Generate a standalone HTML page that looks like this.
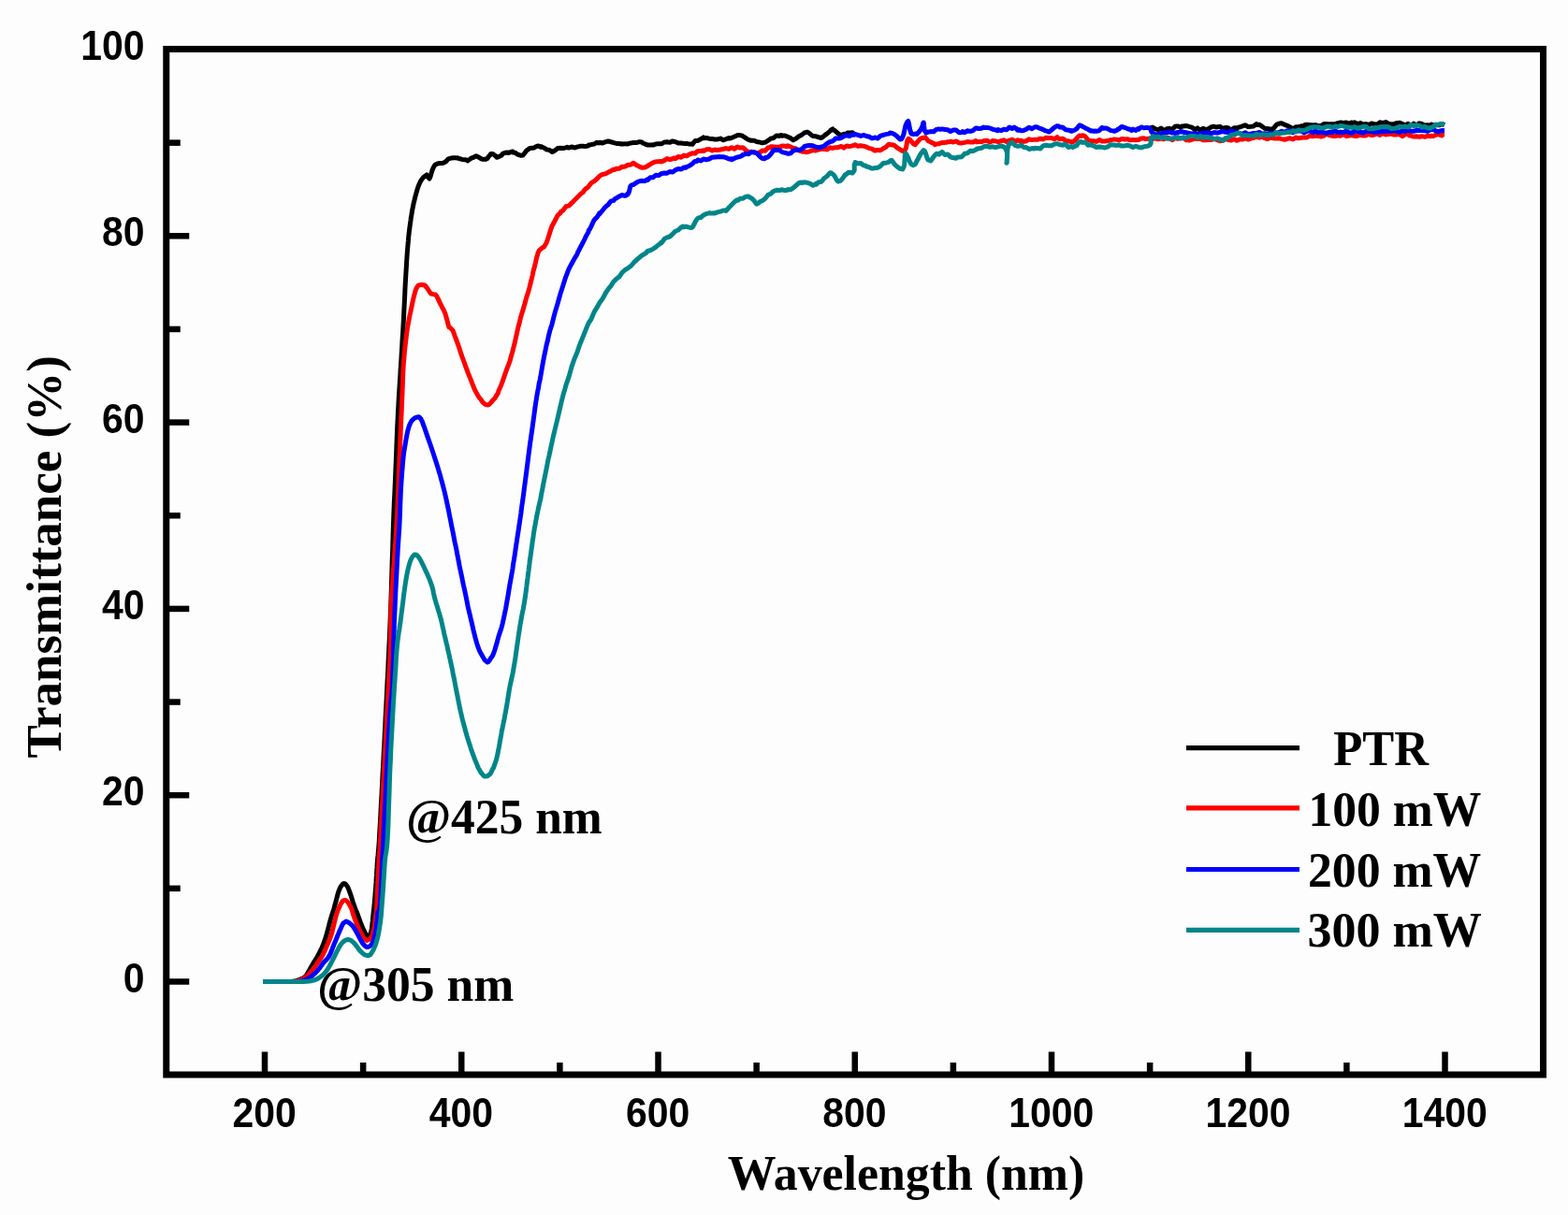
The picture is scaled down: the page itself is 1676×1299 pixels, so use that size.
<!DOCTYPE html>
<html><head><meta charset="utf-8"><title>Transmittance</title>
<style>html,body{margin:0;padding:0;background:#fdfdfd;width:1676px;height:1299px;overflow:hidden}svg{display:block}</style>
</head><body>
<svg width="1676" height="1299" viewBox="0 0 1676 1299"><rect x="0" y="0" width="1676" height="1299" fill="#fdfdfd"/><path d="M281.0 1049.5 L282.5 1049.5 L284.6 1049.5 L287.0 1049.5 L289.8 1049.5 L292.6 1049.5 L295.3 1049.5 L297.8 1049.5 L300.0 1049.5 L302.5 1049.5 L304.7 1049.5 L306.8 1049.5 L308.7 1049.4 L310.4 1049.4 L312.0 1049.3 L314.5 1049.0 L316.4 1048.6 L318.0 1048.2 L320.1 1047.4 L322.0 1046.5 L324.1 1045.8 L326.5 1044.0 L327.5 1042.7 L328.5 1041.0 L329.6 1039.0 L330.8 1037.0 L331.9 1034.9 L333.0 1033.0 L334.1 1031.2 L335.2 1029.4 L336.3 1027.6 L337.4 1025.9 L338.5 1024.1 L339.5 1022.3 L340.6 1020.2 L341.7 1018.1 L342.8 1015.9 L343.8 1013.8 L344.7 1011.6 L345.5 1009.7 L346.2 1007.9 L346.8 1006.0 L347.5 1004.1 L348.2 1002.1 L348.8 1000.0 L349.4 998.1 L349.9 996.0 L350.5 993.9 L351.0 991.7 L351.6 989.6 L352.0 987.7 L352.5 986.0 L353.2 983.5 L353.8 981.5 L354.3 979.7 L354.8 978.0 L355.5 976.0 L356.1 974.2 L356.8 972.0 L357.3 970.2 L357.8 968.2 L358.4 966.1 L359.0 964.0 L359.5 962.0 L360.1 959.7 L360.7 957.5 L361.2 955.4 L361.8 953.5 L362.7 951.2 L363.6 949.1 L364.5 947.5 L366.4 945.1 L367.8 944.5 L369.2 945.1 L371.2 947.5 L372.0 949.1 L372.8 951.2 L373.7 953.5 L374.4 955.4 L375.1 957.6 L375.8 959.8 L376.5 962.0 L377.2 964.3 L378.0 966.7 L378.8 968.9 L379.5 971.0 L380.3 973.0 L381.1 974.7 L382.0 977.0 L382.7 978.9 L383.5 981.2 L384.4 983.6 L385.2 985.9 L386.0 988.0 L386.9 990.3 L387.8 992.4 L388.7 994.3 L389.5 996.0 L391.1 999.1 L392.7 1001.0 L395.5 999.0 L396.2 997.5 L396.8 995.5 L397.3 993.0 L397.6 991.2 L397.8 989.1 L398.0 986.9 L398.3 984.5 L398.5 982.0 L398.7 980.2 L398.9 978.3 L399.1 976.4 L399.3 974.4 L399.6 972.4 L399.8 970.2 L400.0 968.0 L400.2 966.0 L400.4 964.1 L400.5 962.1 L400.7 960.0 L400.9 957.8 L401.1 955.4 L401.3 952.9 L401.5 950.0 L401.7 946.8 L402.0 943.2 L402.2 939.4 L402.5 935.4 L402.7 931.4 L403.0 927.4 L403.2 923.6 L403.5 920.0 L403.7 917.0 L404.0 914.6 L404.2 912.5 L404.4 910.3 L404.6 907.8 L404.9 904.6 L405.2 900.5 L405.5 895.0 L405.9 887.9 L406.4 879.4 L406.9 869.9 L407.4 859.7 L408.0 849.2 L408.5 838.9 L409.0 829.0 L409.5 820.0 L409.9 811.8 L410.3 803.9 L410.7 796.4 L411.1 789.1 L411.4 781.8 L411.8 774.6 L412.1 767.4 L412.5 760.0 L412.9 752.5 L413.3 745.0 L413.6 737.5 L414.0 730.0 L414.4 722.5 L414.8 715.0 L415.1 707.5 L415.5 700.0 L415.8 692.6 L416.2 685.5 L416.5 678.4 L416.8 671.2 L417.1 664.0 L417.4 656.4 L417.7 648.5 L418.0 640.0 L418.3 630.8 L418.6 620.9 L418.9 610.6 L419.2 600.0 L419.6 589.4 L419.9 579.1 L420.2 569.2 L420.5 560.0 L420.8 551.5 L421.1 543.6 L421.4 536.0 L421.8 528.8 L422.1 521.6 L422.4 514.5 L422.7 507.4 L423.0 500.0 L423.3 492.4 L423.6 484.8 L423.9 477.1 L424.2 469.4 L424.5 461.8 L424.8 454.3 L425.2 447.0 L425.5 440.0 L425.9 433.2 L426.2 426.7 L426.6 420.3 L427.0 414.1 L427.4 407.9 L427.8 401.9 L428.1 395.9 L428.5 390.0 L428.9 384.1 L429.2 378.4 L429.6 372.8 L429.9 367.2 L430.2 361.7 L430.6 356.2 L430.9 350.6 L431.2 345.0 L431.5 339.2 L431.8 333.3 L432.1 327.3 L432.4 321.4 L432.7 315.5 L432.9 309.8 L433.2 304.2 L433.5 299.0 L433.8 294.0 L434.1 289.2 L434.4 284.5 L434.6 280.1 L434.9 275.8 L435.2 271.6 L435.5 267.7 L435.8 264.0 L436.1 260.5 L436.4 257.4 L436.6 254.4 L436.9 251.6 L437.2 249.0 L437.5 246.3 L437.9 243.7 L438.2 241.0 L438.6 238.3 L439.0 235.5 L439.3 232.8 L439.8 230.2 L440.2 227.6 L440.6 225.0 L441.1 222.5 L441.6 220.0 L442.1 217.5 L442.7 215.1 L443.3 212.6 L443.9 210.2 L444.5 208.0 L445.1 205.8 L445.7 203.8 L446.2 202.0 L447.2 199.0 L448.2 196.6 L449.1 194.7 L450.0 193.0 L451.7 190.6 L453.2 189.0 L456.0 187.0 L457.5 189.5 L459.0 191.0 L459.6 189.9 L460.3 188.0 L460.9 185.7 L461.6 183.4 L462.2 181.5 L463.2 179.2 L464.2 177.4 L465.4 176.0 L467.6 175.0 L470.0 174.5 L472.5 174.5 L473.0 174.5 L475.1 173.6 L476.0 173.2 L476.8 172.5 L478.5 170.6 L479.0 170.1 L480.5 169.5 L482.0 169.1 L482.5 169.0 L484.8 168.7 L485.0 168.7 L487.1 168.8 L488.0 168.9 L489.1 168.8 L491.0 169.7 L491.7 169.7 L494.0 170.5 L496.9 170.7 L497.0 170.7 L499.8 171.5 L500.0 171.8 L501.9 170.5 L503.0 169.6 L504.0 169.0 L506.0 168.4 L506.7 167.9 L509.0 166.7 L509.5 167.2 L511.8 168.1 L512.0 168.3 L514.0 169.5 L515.0 170.1 L516.5 170.4 L518.0 170.1 L519.2 170.4 L520.9 169.5 L521.0 169.4 L522.6 166.9 L524.0 165.8 L524.5 164.5 L526.6 164.6 L527.0 164.7 L528.8 166.2 L530.0 166.8 L531.0 168.3 L533.0 167.6 L533.2 167.6 L535.3 166.5 L536.0 166.2 L537.4 164.3 L539.0 163.7 L540.3 163.3 L542.0 162.9 L543.0 163.5 L545.0 163.0 L545.6 162.7 L548.0 162.0 L548.1 163.0 L550.5 163.2 L551.0 163.5 L553.0 165.0 L554.0 165.2 L554.9 165.6 L556.9 166.3 L557.0 166.3 L558.9 166.1 L560.0 164.6 L560.3 164.4 L561.5 162.7 L562.9 160.8 L563.0 160.7 L564.3 160.0 L566.0 158.6 L566.4 158.5 L568.7 158.3 L569.0 158.3 L571.0 158.0 L572.0 157.3 L573.5 156.6 L575.0 155.9 L576.0 156.3 L578.0 157.4 L578.2 156.6 L580.7 157.7 L581.0 157.9 L583.0 159.0 L584.0 159.8 L584.9 160.0 L587.0 160.3 L587.0 160.3 L589.0 161.5 L590.0 162.4 L590.8 162.2 L592.6 161.2 L593.0 161.0 L595.0 159.5 L596.0 158.4 L596.9 158.4 L599.0 158.2 L599.1 158.2 L601.5 158.4 L602.0 158.5 L603.9 158.1 L605.0 157.9 L606.2 157.3 L608.0 158.1 L608.4 158.0 L610.5 157.2 L611.0 157.0 L612.6 157.5 L614.0 157.9 L614.8 157.8 L617.0 157.0 L619.0 156.6 L620.0 156.2 L621.0 156.2 L623.0 156.3 L623.2 156.3 L625.3 156.4 L626.0 156.4 L627.3 156.2 L629.0 155.8 L629.3 155.0 L631.5 154.7 L632.0 154.5 L633.6 154.3 L635.0 154.1 L635.7 153.7 L637.8 152.4 L638.0 152.3 L640.0 153.0 L641.0 152.3 L642.0 152.5 L644.0 153.0 L644.0 153.0 L646.1 152.1 L647.0 151.7 L648.3 151.4 L650.0 150.9 L650.4 151.0 L652.4 151.6 L653.0 151.8 L654.8 152.2 L656.0 152.6 L657.1 152.9 L659.0 153.4 L659.4 153.4 L661.7 153.5 L662.0 153.5 L664.0 154.0 L665.0 153.8 L666.3 153.9 L668.0 153.8 L668.6 153.8 L670.9 153.9 L671.0 153.9 L673.2 153.1 L674.0 152.9 L675.5 152.7 L677.0 152.4 L677.8 152.5 L680.0 152.6 L680.1 152.6 L682.4 151.9 L683.0 151.7 L684.7 151.8 L686.0 151.9 L687.0 153.0 L689.0 153.8 L689.3 153.9 L691.6 154.9 L692.0 155.1 L694.0 155.0 L695.0 154.9 L696.3 154.9 L698.0 154.7 L698.6 155.0 L700.9 154.0 L701.0 153.9 L703.2 153.8 L704.0 153.8 L705.4 153.8 L707.0 153.8 L707.7 153.5 L710.0 152.0 L712.3 151.9 L713.0 151.7 L714.4 152.0 L716.0 152.3 L716.7 151.9 L719.0 150.9 L719.1 150.9 L721.7 151.6 L722.0 151.7 L723.5 152.3 L725.0 153.1 L725.5 153.1 L727.5 153.0 L728.0 153.0 L729.6 153.2 L731.0 153.4 L731.7 153.4 L733.8 153.4 L734.0 153.4 L735.9 153.9 L737.0 154.1 L737.8 153.9 L739.9 154.3 L740.0 154.3 L741.9 152.0 L743.0 150.6 L743.9 150.6 L745.9 150.4 L746.0 150.4 L747.8 149.3 L749.0 148.7 L749.8 148.3 L751.7 147.0 L752.0 147.8 L753.9 147.5 L755.0 147.5 L756.1 147.7 L758.0 148.2 L758.3 148.2 L760.5 148.4 L761.0 148.4 L762.7 148.8 L764.0 149.0 L765.0 149.0 L767.0 148.9 L767.0 148.9 L769.1 148.3 L770.0 148.0 L771.2 148.7 L773.0 149.7 L773.4 149.6 L775.5 148.9 L776.0 148.7 L777.5 148.1 L779.0 147.5 L779.4 148.1 L781.5 147.5 L782.0 147.4 L783.5 146.8 L785.0 146.1 L785.4 145.9 L787.3 145.0 L788.0 144.7 L789.1 144.4 L791.0 144.6 L792.9 144.9 L794.0 145.6 L794.7 146.0 L796.5 147.2 L797.0 147.5 L798.3 148.3 L800.0 149.3 L800.1 149.4 L802.0 150.0 L803.0 150.3 L804.0 150.3 L806.0 150.3 L808.1 151.2 L809.0 151.6 L810.1 151.8 L812.0 152.0 L812.1 152.0 L814.0 152.7 L815.0 152.7 L816.1 152.6 L818.0 152.1 L818.1 152.1 L820.0 150.8 L821.0 150.2 L822.0 149.6 L824.0 148.0 L826.1 147.8 L827.0 147.4 L828.1 146.4 L830.0 144.9 L830.2 144.9 L832.4 145.2 L833.0 145.5 L834.8 144.6 L836.0 145.2 L836.6 145.1 L838.6 145.0 L839.0 145.0 L840.7 145.7 L842.0 146.3 L842.7 146.6 L844.8 147.5 L845.0 147.6 L846.8 149.1 L848.0 149.8 L848.7 149.3 L850.8 148.2 L851.0 148.0 L852.9 146.6 L854.0 145.6 L854.9 145.3 L856.9 144.3 L857.0 144.3 L858.7 142.7 L860.0 141.8 L860.4 142.0 L862.6 141.2 L863.0 141.3 L864.4 142.0 L866.0 143.2 L866.1 143.3 L868.0 145.0 L869.0 145.4 L870.2 145.5 L872.0 145.7 L872.4 145.9 L874.7 146.7 L875.0 146.7 L876.8 147.3 L878.0 147.4 L878.7 147.0 L880.6 145.5 L881.0 145.1 L882.3 144.0 L884.0 143.0 L886.1 141.1 L887.0 140.4 L888.0 139.2 L890.0 138.0 L890.3 139.0 L891.9 139.2 L893.0 140.3 L893.8 140.9 L895.7 142.6 L896.0 142.9 L897.5 143.8 L899.0 144.2 L899.2 145.0 L901.6 143.5 L902.0 143.3 L903.8 143.3 L905.0 143.5 L906.0 142.0 L907.6 142.0 L908.0 142.0 L909.2 141.9 L911.0 141.7 L912.7 142.8 M1229.0 136.4 L1230.2 136.5 L1232.0 136.1 L1232.1 136.1 L1234.1 137.3 L1235.0 137.9 L1236.1 138.2 L1238.0 138.6 L1238.2 138.5 L1240.3 137.5 L1241.0 137.1 L1242.4 138.1 L1244.0 139.2 L1244.5 139.0 L1246.6 138.8 L1247.0 137.7 L1248.6 137.5 L1250.0 137.3 L1250.7 137.6 L1252.7 138.3 L1253.0 138.4 L1254.7 136.6 L1256.0 135.2 L1256.7 135.1 L1258.8 134.9 L1259.0 134.9 L1260.9 135.7 L1262.0 136.4 L1263.0 135.0 L1265.0 134.9 L1265.2 134.8 L1267.4 134.6 L1268.0 134.5 L1269.6 134.9 L1271.0 135.3 L1271.9 135.6 L1274.0 136.2 L1274.2 136.4 L1276.5 137.9 L1277.0 138.2 L1278.7 137.5 L1280.0 136.9 L1281.0 138.0 L1283.0 139.0 L1283.3 138.9 L1285.5 137.6 L1286.0 137.3 L1287.8 138.0 L1289.0 138.4 L1290.1 138.1 L1292.0 137.7 L1292.3 137.4 L1294.6 135.9 L1295.0 135.6 L1296.7 135.3 L1298.0 135.2 L1298.8 135.8 L1301.0 135.9 L1301.1 135.8 L1303.4 135.4 L1304.0 135.3 L1305.5 136.4 L1307.0 137.4 L1307.7 137.2 L1309.7 136.5 L1310.0 136.4 L1311.7 136.6 L1313.0 136.7 L1313.7 138.0 L1315.8 139.0 L1316.0 139.1 L1317.7 137.8 L1319.0 136.8 L1319.5 136.8 L1321.3 136.8 L1322.0 136.8 L1323.4 136.3 L1325.0 135.8 L1325.7 135.8 L1327.7 135.0 L1328.0 134.9 L1329.9 134.2 L1331.0 133.8 L1332.2 134.4 L1334.0 135.5 L1334.6 135.4 L1337.0 135.2 L1337.0 135.2 L1339.4 134.9 L1340.0 134.9 L1341.7 133.5 L1343.0 132.6 L1343.9 133.6 L1346.0 133.2 L1346.3 133.3 L1348.6 134.8 L1349.0 135.2 L1350.8 136.5 L1352.0 137.3 L1353.0 137.4 L1355.0 137.4 L1355.1 137.4 L1357.0 138.2 L1358.0 138.4 L1358.8 138.0 L1360.9 137.7 L1361.0 137.6 L1362.6 135.7 L1364.0 133.7 L1364.2 133.6 L1365.8 132.5 L1367.0 132.4 L1367.7 132.0 L1369.5 131.8 L1370.0 131.9 L1371.4 132.4 L1373.0 133.2 L1373.3 133.4 L1375.4 134.2 L1376.0 134.3 L1377.5 135.2 L1379.0 135.8 L1379.7 136.5 L1381.7 137.5 L1382.0 137.7 L1383.9 136.5 L1385.0 135.7 L1386.2 135.7 L1388.0 135.5 L1388.5 135.4 L1390.7 134.8 L1391.0 134.7 L1392.8 134.7 L1394.0 134.8 L1394.6 133.6 L1397.0 133.3 L1397.1 133.3 L1399.0 133.4 L1400.0 133.5 L1401.0 133.7 L1403.0 133.8 L1403.5 134.3 L1405.2 133.7 L1406.0 133.6 L1406.9 134.0 L1408.8 134.6 L1409.0 134.6 L1410.8 134.5 L1412.0 134.4 L1413.0 133.8 L1415.0 132.5 L1415.5 132.5 L1418.0 132.4 L1418.4 132.8 L1421.0 132.8 L1421.3 132.8 L1424.0 132.7 L1424.7 132.7 L1427.0 132.7 L1428.3 132.2 L1430.0 131.7 L1432.1 131.2 L1433.0 131.0 L1436.0 131.5 L1436.0 131.5 L1439.0 131.0 L1439.8 131.3 L1442.0 132.2 L1443.4 131.6 L1445.0 130.9 L1446.8 132.0 L1448.0 130.9 L1450.0 131.9 L1451.0 132.4 L1453.1 131.9 L1454.0 131.6 L1456.2 132.7 L1457.0 133.1 L1459.2 132.6 L1460.0 132.5 L1462.1 133.2 L1463.0 133.6 L1464.7 132.6 L1466.0 131.9 L1467.1 132.2 L1469.0 132.8 L1469.2 132.8 L1472.0 133.3 L1472.2 133.1 L1474.2 131.5 L1475.0 130.7 L1475.8 131.1 L1478.0 131.3 L1479.9 131.2 L1481.0 130.5 L1482.0 131.0 L1484.0 132.2 L1484.1 132.2 L1486.5 132.8 L1487.0 133.0 L1488.9 132.8 L1490.0 132.7 L1491.5 132.0 L1493.0 131.6 L1493.6 131.5 L1495.7 131.3 L1496.0 131.2 L1498.0 132.1 L1499.0 132.5 L1500.3 133.1 L1502.0 133.7 L1502.7 133.4 L1505.0 132.3 L1505.2 132.4 L1507.6 133.7 L1508.0 134.0 L1510.0 133.0 L1511.0 132.1 L1512.5 133.1 L1514.0 134.1 L1515.0 133.3 L1517.0 131.8 L1517.7 132.0 L1520.0 132.5 L1520.3 132.7 L1522.9 134.0 L1523.0 134.0 L1525.4 133.8 L1526.0 133.8 L1527.8 133.9 L1529.0 134.0 L1530.0 133.0 L1532.0 133.9 L1532.4 133.9 L1534.8 133.8 L1535.0 133.8 L1537.2 133.8 L1538.0 133.8 L1539.3 133.3 L1541.0 132.6 L1541.2 132.7 L1542.8 133.1 L1544.0 133.6" fill="none" stroke="#000000" stroke-width="5" stroke-linejoin="round" stroke-linecap="butt"/><path d="M281.0 1049.5 L282.5 1049.5 L284.5 1049.5 L287.0 1049.5 L289.6 1049.5 L292.4 1049.5 L295.2 1049.5 L297.7 1049.5 L300.0 1049.5 L302.3 1049.5 L304.6 1049.5 L306.8 1049.5 L308.9 1049.5 L310.8 1049.4 L312.5 1049.4 L314.0 1049.3 L317.1 1048.9 L319.0 1048.3 L321.1 1047.7 L323.0 1047.0 L324.9 1046.1 L327.0 1044.5 L328.4 1043.2 L329.9 1041.6 L331.5 1039.8 L333.0 1038.0 L334.2 1036.5 L335.4 1034.9 L336.7 1033.3 L337.8 1031.6 L339.0 1030.0 L340.4 1028.1 L341.7 1026.3 L343.0 1024.4 L344.3 1022.3 L345.3 1020.4 L346.2 1018.4 L347.1 1016.4 L348.1 1014.2 L349.0 1012.0 L349.8 1010.1 L350.7 1008.2 L351.5 1006.2 L352.4 1004.2 L353.2 1002.1 L353.9 1000.0 L354.5 998.1 L355.1 996.0 L355.6 993.8 L356.1 991.7 L356.6 989.6 L357.1 987.7 L357.5 986.0 L358.1 983.5 L358.6 981.5 L359.0 979.7 L359.5 978.0 L360.2 975.9 L360.9 973.9 L361.7 972.0 L362.6 969.9 L363.6 967.8 L364.5 966.0 L366.6 963.0 L368.5 962.2 L370.4 963.0 L372.8 966.0 L373.8 967.8 L374.9 969.9 L375.9 972.0 L376.6 974.1 L377.1 976.2 L377.8 978.5 L378.5 980.5 L379.3 982.6 L380.1 984.8 L381.0 987.0 L381.9 989.3 L382.9 991.6 L384.0 993.9 L385.0 996.0 L386.0 998.0 L387.1 999.9 L388.1 1001.6 L389.0 1003.0 L392.1 1005.5 L395.5 1004.0 L396.6 1002.5 L397.6 1000.5 L398.5 998.0 L399.0 996.2 L399.4 994.2 L399.8 992.0 L400.2 989.9 L400.5 988.0 L400.8 985.9 L401.1 984.0 L401.3 982.1 L401.5 980.0 L401.7 978.6 L401.9 977.6 L402.2 976.3 L402.4 974.0 L402.7 970.0 L402.9 966.4 L403.1 962.0 L403.3 957.0 L403.5 951.6 L403.8 946.0 L404.0 940.4 L404.3 935.0 L404.5 930.0 L404.7 925.7 L405.0 921.8 L405.2 918.3 L405.5 914.7 L405.7 910.8 L406.0 906.4 L406.3 901.3 L406.7 895.0 L407.1 887.4 L407.6 878.7 L408.1 869.1 L408.7 859.1 L409.2 848.8 L409.8 838.6 L410.3 828.9 L410.8 820.0 L411.2 811.8 L411.7 803.9 L412.1 796.4 L412.5 789.1 L412.9 781.8 L413.2 774.6 L413.6 767.4 L414.0 760.0 L414.4 752.5 L414.8 745.0 L415.2 737.5 L415.6 730.0 L416.0 722.5 L416.4 715.0 L416.7 707.5 L417.0 700.0 L417.2 692.6 L417.4 685.5 L417.5 678.4 L417.6 671.2 L417.7 664.0 L417.9 656.4 L418.1 648.5 L418.5 640.0 L419.0 630.9 L419.7 621.2 L420.4 611.0 L421.2 600.6 L421.9 590.1 L422.7 579.8 L423.4 569.7 L424.0 560.0 L424.5 550.8 L424.9 541.8 L425.3 533.0 L425.7 524.4 L426.0 515.8 L426.3 507.3 L426.6 498.7 L427.0 490.0 L427.4 481.0 L427.8 471.5 L428.2 461.9 L428.6 452.4 L429.0 443.2 L429.4 434.6 L429.7 426.8 L430.0 420.0 L430.2 414.5 L430.4 410.0 L430.5 406.4 L430.6 403.3 L430.7 400.5 L430.8 397.7 L431.0 394.6 L431.2 391.0 L431.5 386.9 L431.9 382.6 L432.3 378.1 L432.7 373.5 L433.2 369.0 L433.7 364.6 L434.2 360.4 L434.7 356.5 L435.2 352.9 L435.7 349.4 L436.3 346.2 L436.9 343.0 L437.4 340.0 L438.0 337.0 L438.7 334.0 L439.3 331.0 L440.0 327.9 L440.7 324.6 L441.4 321.3 L442.1 318.1 L442.9 315.1 L443.6 312.3 L444.4 309.9 L445.1 308.0 L447.1 305.2 L449.2 304.6 L450.9 304.5 L454.0 305.0 L456.6 308.0 L457.9 310.0 L459.3 312.3 L460.8 314.0 L463.2 314.6 L465.5 315.0 L466.8 316.6 L468.2 319.5 L469.0 321.0 L470.0 323.5 L471.1 325.5 L472.2 327.7 L473.0 329.4 L473.2 329.7 L474.0 331.0 L474.9 333.1 L475.7 334.8 L476.0 335.7 L476.3 336.7 L477.0 339.4 L477.6 341.0 L478.2 343.3 L478.7 345.7 L479.0 346.6 L479.3 347.9 L480.0 350.0 L481.5 350.5 L482.0 351.3 L484.0 353.2 L485.0 356.0 L485.1 356.2 L486.3 359.6 L487.8 363.5 L488.0 364.2 L489.3 367.7 L490.9 372.1 L491.0 372.5 L492.4 376.9 L494.0 381.6 L494.0 381.6 L495.5 385.6 L497.0 389.7 L497.0 389.8 L498.5 393.8 L500.0 397.9 L500.0 397.9 L501.5 401.8 L503.0 405.4 L503.0 405.4 L504.4 409.2 L505.8 412.6 L506.0 413.2 L507.0 415.6 L508.4 418.5 L509.0 419.6 L509.7 420.9 L510.8 422.9 L511.8 424.5 L512.0 424.8 L512.9 426.0 L514.0 427.0 L515.0 428.8 L515.8 429.7 L517.6 431.5 L518.0 431.8 L519.3 432.6 L520.9 432.9 L521.0 433.0 L522.7 432.5 L524.0 431.2 L524.3 430.9 L526.0 429.0 L527.0 427.6 L527.1 427.5 L528.1 426.6 L529.2 425.3 L530.0 423.9 L530.6 423.0 L532.4 420.2 L533.0 417.7 L533.8 415.9 L535.5 412.2 L536.0 410.9 L537.3 407.3 L539.0 402.4 L539.2 401.8 L541.1 396.4 L542.0 393.9 L543.0 391.3 L544.8 386.7 L545.0 386.0 L546.3 381.0 L547.6 376.6 L548.0 375.1 L548.8 372.0 L549.9 367.6 L550.9 363.3 L551.0 362.9 L551.9 358.8 L552.9 354.3 L553.9 349.8 L554.0 349.3 L555.0 346.0 L556.2 340.7 L557.0 337.7 L557.5 336.1 L558.8 331.9 L560.0 328.0 L560.1 327.6 L561.4 323.0 L562.6 318.6 L563.0 317.3 L563.8 314.8 L564.8 311.7 L565.7 308.3 L566.0 307.0 L566.4 305.6 L567.0 303.1 L567.6 300.7 L568.2 298.4 L568.7 296.2 L569.0 295.1 L569.3 293.7 L570.0 290.0 L570.7 287.8 L571.5 284.6 L572.0 282.4 L572.3 281.3 L573.0 278.0 L573.8 274.7 L574.7 271.7 L575.0 270.6 L575.5 269.4 L576.3 267.8 L578.0 266.2 L578.0 266.2 L579.7 265.0 L581.0 264.1 L581.5 263.9 L583.2 261.0 L584.0 259.7 L584.0 259.7 L584.8 257.6 L585.6 255.2 L586.4 252.7 L587.0 250.9 L587.3 250.0 L588.1 247.2 L589.0 244.6 L590.0 241.6 L591.0 240.0 L592.1 237.9 L593.0 236.3 L593.2 235.8 L594.4 233.5 L595.6 231.2 L596.0 230.4 L596.8 229.6 L598.1 228.4 L599.0 227.8 L599.4 226.2 L600.9 225.6 L602.0 224.7 L602.5 224.0 L604.1 221.9 L605.0 220.7 L605.8 220.5 L607.5 220.1 L608.0 220.0 L609.2 219.0 L611.0 217.0 L612.6 215.7 L614.0 214.0 L614.2 213.8 L615.9 212.2 L617.0 211.1 L617.6 210.5 L619.4 208.6 L620.0 207.9 L621.1 207.1 L622.9 205.8 L623.0 205.8 L624.8 203.1 L626.0 201.9 L626.7 201.4 L628.7 199.9 L629.0 199.6 L630.7 197.3 L632.0 195.6 L632.8 195.1 L634.8 193.9 L635.0 193.9 L636.9 192.2 L638.0 191.3 L639.0 190.2 L641.0 188.1 L643.0 186.9 L644.0 186.5 L645.1 186.2 L647.0 185.9 L647.2 185.7 L649.3 184.6 L650.0 184.3 L651.4 183.6 L653.0 182.7 L653.4 182.5 L655.2 181.6 L656.0 181.1 L657.0 181.4 L659.0 180.3 L659.5 180.3 L661.8 180.2 L662.0 180.2 L663.9 178.9 L665.0 178.2 L666.0 178.4 L668.0 178.0 L670.0 177.1 L671.0 176.3 L672.0 176.3 L674.0 176.3 L674.0 176.3 L675.9 174.9 L677.0 174.3 L677.8 174.7 L679.7 176.1 L680.0 176.5 L681.5 177.1 L683.0 177.9 L683.4 178.1 L685.2 179.0 L686.0 179.0 L687.0 179.3 L689.0 178.9 L689.3 178.9 L691.5 177.9 L692.0 177.6 L693.7 176.4 L695.0 175.7 L696.0 175.0 L698.0 173.9 L698.2 173.8 L700.4 173.0 L701.0 172.9 L702.8 172.8 L704.0 172.8 L705.5 172.4 L707.0 173.0 L707.3 172.8 L709.3 171.9 L710.0 171.6 L711.4 170.6 L713.0 169.6 L713.6 169.8 L715.8 170.5 L716.0 170.6 L718.0 170.0 L719.0 169.7 L720.0 169.0 L722.0 169.5 L722.2 169.4 L724.3 167.9 L725.0 167.5 L726.4 167.8 L728.0 168.2 L728.5 167.9 L730.7 166.4 L731.0 166.1 L733.2 166.6 L734.0 166.7 L735.3 166.0 L737.0 164.9 L737.5 164.8 L739.8 163.9 L740.0 163.8 L742.1 164.0 L743.0 164.1 L744.5 162.7 L746.0 161.4 L747.0 161.4 L749.0 161.5 L749.4 161.4 L751.7 160.8 L752.0 161.5 L754.0 160.4 L755.0 159.8 L756.2 159.7 L758.0 159.6 L758.5 159.8 L760.7 160.8 L761.0 161.0 L762.9 160.4 L764.0 160.0 L765.2 160.3 L767.0 160.6 L767.6 160.3 L770.0 160.0 L772.6 159.4 L773.0 159.4 L775.4 158.8 L776.0 158.6 L778.2 159.2 L779.0 159.4 L781.1 158.2 L782.0 157.7 L783.9 158.7 L785.0 159.3 L786.6 158.0 L788.0 157.0 L789.0 157.4 L791.0 158.0 L793.9 157.7 L794.0 157.7 L795.7 159.1 L797.0 160.4 L797.3 160.7 L799.3 162.1 L800.0 163.0 L801.1 162.7 L803.0 162.2 L803.0 162.2 L805.1 162.6 L806.0 162.7 L807.2 163.2 L809.0 163.9 L809.3 163.9 L811.3 163.3 L812.0 162.8 L813.2 162.2 L815.0 160.9 L815.1 160.9 L816.9 161.1 L818.0 161.2 L818.8 160.2 L820.9 157.9 L821.0 157.8 L823.2 157.9 L824.0 156.7 L825.2 156.8 L827.0 157.0 L827.5 157.0 L829.9 157.2 L830.0 157.3 L832.3 157.3 L833.0 157.4 L834.8 156.5 L836.0 155.9 L837.1 156.0 L839.0 156.3 L839.3 156.3 L841.1 156.7 L842.0 155.7 L843.9 156.5 L845.0 157.0 L846.0 157.4 L847.9 158.4 L848.0 158.5 L850.0 158.5 L851.0 159.4 L851.9 159.8 L853.8 160.9 L854.0 161.0 L855.8 161.6 L857.0 161.9 L857.8 162.2 L860.0 162.0 L861.8 162.7 L863.0 162.5 L863.6 162.3 L865.4 161.8 L866.0 161.6 L867.4 161.1 L869.0 160.6 L869.7 160.7 L872.0 161.1 L872.4 160.7 L874.7 160.1 L875.0 160.0 L877.3 159.3 L878.0 159.1 L880.0 159.3 L881.0 159.4 L882.9 159.7 L884.0 159.9 L885.9 158.6 L887.0 157.8 L888.9 158.2 L890.0 158.4 L891.8 157.9 L893.0 157.7 L894.7 157.7 L896.0 157.6 L897.5 157.0 L899.0 156.4 L900.4 157.1 L902.0 158.1 L903.2 157.2 L905.0 156.0 L906.1 156.2 L908.0 156.6 L908.9 156.4 L911.0 155.9 L911.7 155.7 L914.0 154.8 L914.4 155.0 L917.0 156.3 L917.1 156.2 L919.7 155.7 L920.0 155.7 L922.3 156.1 L923.0 156.2 L924.8 156.7 L926.0 157.1 L927.3 157.7 L929.0 158.4 L929.7 158.6 L932.0 159.1 L932.0 159.1 L934.3 160.6 L935.0 161.0 L936.5 160.7 L938.0 160.5 L938.6 160.6 L940.5 160.7 L941.0 160.7 L942.4 159.9 L944.0 158.9 L944.2 158.7 L946.0 157.8 L947.0 157.3 L947.8 156.4 L949.6 154.5 L950.0 154.2 L951.4 154.7 L953.0 154.8 L953.3 154.8 L955.4 155.2 L956.0 155.5 L957.4 156.6 L959.0 158.0 L959.5 158.3 L961.5 159.5 L962.0 159.8 L963.3 160.7 L964.9 161.5 L965.0 161.5 L966.3 160.7 L967.6 160.1 L968.0 159.1 L968.5 157.8 L969.0 154.9 L969.5 152.1 L970.0 149.7 L970.8 148.8 L971.0 148.2 L972.4 148.9 L974.0 151.0 L974.3 151.3 L976.3 153.7 L977.0 154.2 L978.3 154.7 L979.9 152.6 L980.0 152.5 L981.6 150.7 L983.0 149.1 L983.3 148.7 L985.2 147.5 L986.0 147.5 L987.2 147.3 L988.7 146.7 L989.0 146.8 L990.3 148.3 L992.0 150.5 L992.0 150.6 L993.7 151.3 L995.0 151.8 L995.5 152.2 L997.3 153.1 L998.0 153.2 L999.2 154.7 L1001.0 154.0 L1001.0 154.0 L1002.8 153.8 L1004.0 153.5 L1004.5 153.3 L1006.4 152.7 L1007.0 152.5 L1008.6 152.4 L1010.0 152.4 L1011.1 152.2 L1013.0 151.8 L1014.0 151.8 L1016.0 151.2 L1017.0 151.5 L1019.0 152.0 L1020.4 151.5 L1022.0 150.9 L1024.1 152.2 L1025.0 152.7 L1028.0 152.9 L1028.1 152.9 L1031.0 152.4 L1032.1 152.1 L1034.0 151.6 L1036.2 151.8 L1037.0 151.9 L1040.0 152.1 L1040.2 152.0 L1043.0 150.6 L1044.0 151.8 L1046.0 151.5 L1047.8 151.6 L1049.0 151.7 L1051.8 150.7 L1052.0 150.6 L1055.0 150.2 L1055.7 150.7 L1058.0 151.9 L1059.7 151.2 L1061.0 150.6 L1063.6 150.8 L1064.0 150.8 L1067.0 151.7 L1067.2 151.6 L1070.0 150.7 L1070.6 150.5 L1073.0 149.8 L1073.7 150.3 L1076.0 151.5 L1076.4 151.3 L1078.6 150.2 L1079.0 150.0 L1080.7 149.6 L1082.0 149.2 L1082.5 149.5 L1084.2 150.7 L1085.0 151.1 L1086.0 150.7 L1087.9 149.7 L1088.0 149.7 L1090.0 150.7 L1091.0 150.2 L1092.3 150.7 L1094.0 151.4 L1094.6 151.3 L1097.0 150.7 L1097.0 150.7 L1099.4 149.1 L1100.0 148.8 L1101.9 149.3 L1103.0 149.6 L1104.4 149.4 L1106.0 149.2 L1106.9 149.2 L1109.0 149.2 L1109.4 149.2 L1112.0 148.2 L1112.0 148.2 L1114.7 148.8 L1115.0 148.9 L1117.4 147.6 L1118.0 147.2 L1120.1 147.4 L1121.0 147.5 L1122.8 147.5 L1124.0 147.5 L1125.5 148.1 L1127.0 148.8 L1128.0 148.0 L1130.0 146.6 L1130.3 147.7 L1132.8 148.6 L1133.0 148.8 L1135.1 148.3 L1136.0 148.2 L1137.3 149.1 L1139.0 150.3 L1139.4 150.4 L1141.4 150.8 L1142.0 150.8 L1143.4 151.2 L1145.0 151.4 L1145.2 151.5 L1147.2 151.4 L1148.0 151.0 L1148.9 150.2 L1150.5 148.3 L1151.0 147.7 L1152.1 146.5 L1153.7 145.0 L1154.0 144.9 L1155.6 145.5 L1157.0 144.7 L1157.3 144.7 L1158.9 145.3 L1160.0 145.9 L1160.5 146.5 L1162.3 148.8 L1163.0 149.7 L1164.2 150.1 L1166.0 150.4 L1166.4 150.7 L1169.0 150.7 L1171.6 151.4 L1172.0 151.3 L1174.4 149.9 L1175.0 149.5 L1177.5 150.7 L1178.0 151.0 L1180.7 151.0 L1181.0 151.0 L1184.0 150.6 L1184.0 150.6 L1187.0 149.7 L1187.5 149.6 L1190.0 149.1 L1190.9 149.1 L1193.0 149.2 L1194.4 149.2 L1196.0 149.9 L1197.8 149.0 L1199.0 148.4 L1201.2 148.8 L1202.0 149.0 L1204.6 148.7 L1205.0 148.7 L1208.0 149.8 L1208.1 149.8 L1211.0 149.4 L1211.7 149.4 L1214.0 149.7 L1215.6 149.5 L1217.0 149.4 L1219.7 148.1 L1220.0 147.9 L1223.0 147.8 L1224.2 148.5 L1226.0 148.5 L1229.0 148.0 L1229.1 148.0 L1232.0 148.5 L1234.3 147.8 L1235.0 148.0 L1238.0 148.8 L1239.8 148.3 L1241.0 148.0 L1244.0 148.7 L1245.5 147.9 L1247.0 147.0 L1250.0 147.8 L1251.3 148.6 L1253.0 149.6 L1256.0 147.5 L1257.2 147.8 L1259.0 148.3 L1262.0 147.5 L1263.2 147.5 L1265.0 147.6 L1268.0 149.8 L1269.0 148.8 L1271.0 150.1 L1274.0 149.3 L1275.0 148.9 L1277.0 148.0 L1280.0 148.5 L1281.3 148.5 L1283.0 148.4 L1286.0 149.7 L1287.7 149.7 L1289.0 149.7 L1292.0 149.2 L1294.2 149.4 L1295.0 149.5 L1298.0 148.4 L1300.5 149.4 L1301.0 149.6 L1304.0 150.7 L1306.4 150.3 L1307.0 150.2 L1310.0 148.5 L1311.9 149.2 L1313.0 149.6 L1316.0 150.1 L1316.7 149.5 L1319.0 148.8 L1320.7 149.6 L1322.0 150.3 L1323.9 149.4 L1325.0 148.9 L1326.6 149.0 L1328.0 149.1 L1329.0 148.7 L1331.0 147.8 L1331.4 148.0 L1333.8 148.9 L1334.0 149.0 L1336.6 148.3 L1337.0 148.2 L1340.0 147.3 L1343.0 146.4 L1344.0 146.6 L1346.0 147.2 L1348.3 146.4 L1349.0 146.2 L1352.0 147.7 L1353.0 148.0 L1355.0 148.6 L1357.8 147.0 L1358.0 146.9 L1361.0 147.8 L1362.6 147.9 L1364.0 147.9 L1367.0 147.8 L1367.5 147.9 L1370.0 148.6 L1372.2 149.0 L1373.0 149.2 L1376.0 148.5 L1376.7 148.0 L1379.0 147.8 L1380.9 148.5 L1382.0 148.9 L1384.9 147.1 L1385.0 147.0 L1388.0 147.8 L1388.8 147.6 L1391.0 147.2 L1392.6 147.1 L1394.0 147.1 L1396.5 147.0 L1397.0 147.0 L1400.0 145.0 L1400.6 145.2 L1403.0 145.8 L1404.9 145.3 L1406.0 145.0 L1409.0 145.5 L1409.5 145.0 L1412.0 146.1 L1414.6 145.3 L1415.0 145.1 L1418.0 143.4 L1420.2 144.3 L1421.0 144.6 L1424.0 145.2 L1426.0 145.4 L1427.0 145.6 L1430.0 144.9 L1432.0 145.2 L1433.0 145.3 L1436.0 143.2 L1438.0 144.8 L1439.0 145.6 L1442.0 145.0 L1443.8 144.8 L1445.0 144.7 L1448.0 145.4 L1449.2 145.4 L1451.0 145.3 L1454.0 143.3 L1454.2 144.3 L1457.0 145.1 L1458.7 144.9 L1460.0 144.9 L1462.9 143.4 L1463.0 143.3 L1466.0 144.6 L1466.8 144.5 L1469.0 144.1 L1470.5 143.5 L1472.0 143.0 L1474.0 144.0 L1475.0 144.5 L1477.4 143.0 L1478.0 142.7 L1480.7 143.8 L1481.0 143.9 L1484.0 143.6 L1487.0 143.0 L1487.2 143.1 L1490.0 144.0 L1490.1 144.0 L1493.0 143.9 L1493.0 143.9 L1495.7 143.5 L1496.0 143.5 L1498.4 145.2 L1499.0 145.7 L1501.1 144.3 L1502.0 143.6 L1503.7 143.6 L1505.0 143.6 L1506.5 145.0 L1508.0 145.0 L1509.3 145.5 L1511.0 146.1 L1512.3 146.0 L1514.0 145.8 L1515.2 146.0 L1517.0 146.2 L1518.1 146.0 L1520.0 145.7 L1521.0 145.9 L1523.0 146.2 L1523.7 146.1 L1526.0 145.4 L1526.4 145.4 L1528.8 145.8 L1529.0 145.2 L1531.5 145.5 L1532.0 145.6 L1534.1 144.5 L1535.0 144.0 L1536.6 143.9 L1538.0 143.7 L1538.9 144.1 L1541.0 145.0 L1541.0 145.0 L1542.7 143.8 L1544.0 143.8" fill="none" stroke="#ff0000" stroke-width="5" stroke-linejoin="round" stroke-linecap="butt"/><path d="M281.0 1049.5 L282.5 1049.5 L284.4 1049.5 L286.8 1049.5 L289.4 1049.5 L292.1 1049.5 L294.9 1049.5 L297.5 1049.5 L300.0 1049.5 L302.4 1049.5 L304.9 1049.5 L307.4 1049.5 L309.8 1049.4 L312.2 1049.4 L314.4 1049.4 L316.3 1049.4 L318.0 1049.3 L320.9 1049.1 L322.5 1048.9 L324.0 1048.5 L326.6 1047.7 L329.0 1046.5 L330.6 1045.5 L332.3 1044.4 L334.0 1043.0 L335.4 1041.7 L336.9 1040.3 L338.5 1038.7 L340.0 1037.0 L341.2 1035.5 L342.4 1033.9 L343.6 1032.2 L344.8 1030.5 L346.0 1029.0 L347.5 1027.3 L349.0 1025.9 L350.4 1024.3 L351.8 1022.3 L352.6 1020.7 L353.5 1018.9 L354.2 1016.9 L355.0 1014.9 L355.7 1012.9 L356.5 1011.0 L357.4 1008.7 L358.4 1006.4 L359.3 1004.2 L360.2 1002.0 L361.0 1000.0 L362.0 997.7 L362.9 995.6 L363.7 993.7 L364.5 992.0 L365.8 989.1 L367.0 987.0 L369.9 985.0 L373.0 986.5 L375.0 988.1 L377.0 990.0 L378.5 992.1 L380.0 994.6 L380.9 996.3 L381.9 998.2 L383.0 1000.1 L384.0 1002.0 L385.0 1003.9 L386.0 1005.7 L387.0 1007.5 L388.0 1009.0 L390.1 1011.3 L392.1 1012.5 L394.1 1012.3 L396.0 1011.0 L397.6 1009.0 L399.0 1006.0 L399.5 1004.3 L400.1 1002.4 L400.6 1000.3 L401.1 998.1 L401.5 996.0 L401.9 993.8 L402.2 991.6 L402.5 989.4 L402.7 987.2 L403.0 985.0 L403.2 982.9 L403.4 980.7 L403.5 978.6 L403.7 976.7 L404.0 975.0 L405.0 974.2 L406.1 970.0 L406.3 966.8 L406.6 962.8 L406.8 958.1 L407.1 953.0 L407.3 947.6 L407.5 942.2 L407.8 936.9 L408.0 932.0 L408.2 927.6 L408.4 923.6 L408.6 919.7 L408.8 915.8 L409.1 911.6 L409.3 906.9 L409.6 901.4 L409.9 895.0 L410.3 887.3 L410.7 878.6 L411.2 869.0 L411.7 858.9 L412.2 848.7 L412.7 838.6 L413.1 828.9 L413.6 820.0 L414.0 811.6 L414.5 803.2 L414.9 795.1 L415.4 787.2 L415.8 779.6 L416.2 772.5 L416.6 766.0 L417.0 760.0 L417.4 755.1 L417.7 751.3 L418.0 748.3 L418.3 745.6 L418.6 742.8 L418.9 739.5 L419.2 735.4 L419.5 730.0 L419.8 723.2 L420.0 715.5 L420.3 707.0 L420.5 697.9 L420.7 688.6 L421.0 679.2 L421.3 669.9 L421.6 661.0 L422.0 652.1 L422.4 642.9 L422.8 633.5 L423.3 624.2 L423.8 615.2 L424.2 606.6 L424.6 598.9 L425.0 592.0 L425.3 586.3 L425.6 581.5 L425.9 577.6 L426.1 574.1 L426.3 570.8 L426.6 567.6 L426.8 564.0 L427.0 560.0 L427.2 555.5 L427.4 550.8 L427.6 545.9 L427.7 541.0 L427.9 536.1 L428.1 531.2 L428.3 526.5 L428.5 522.0 L428.8 517.6 L429.1 513.2 L429.4 508.8 L429.7 504.5 L430.1 500.4 L430.4 496.6 L430.7 493.1 L431.0 490.0 L431.3 487.1 L431.6 484.7 L431.8 482.8 L432.1 481.2 L432.4 479.6 L432.7 477.9 L433.0 476.0 L433.3 474.1 L433.7 472.0 L434.0 469.9 L434.4 467.8 L434.8 465.6 L435.2 463.6 L435.6 461.7 L436.0 460.0 L436.7 457.5 L437.4 455.3 L438.2 453.3 L439.1 451.5 L440.0 450.0 L441.9 448.0 L443.9 446.7 L445.8 446.0 L447.9 445.7 L450.0 448.0 L450.6 449.3 L451.3 450.7 L451.9 452.4 L452.6 454.3 L453.4 456.4 L454.2 458.8 L455.2 461.6 L456.2 464.6 L457.4 468.1 L458.8 472.0 L460.3 476.3 L461.8 480.8 L463.4 485.5 L464.9 490.2 L466.4 494.8 L467.8 499.3 L469.1 503.6 L470.3 507.4 L471.4 511.7 L472.6 515.9 L473.0 517.7 L473.7 520.2 L474.8 524.5 L475.9 529.0 L476.0 529.5 L477.0 534.0 L478.1 539.3 L479.0 543.4 L479.3 544.8 L480.4 550.6 L481.6 556.4 L482.0 558.6 L482.7 562.2 L483.9 568.0 L485.0 573.4 L485.0 573.7 L486.2 580.0 L487.4 585.2 L488.0 588.4 L488.5 591.2 L489.7 597.4 L490.9 603.6 L491.0 604.4 L492.0 609.2 L493.2 614.7 L494.0 618.5 L494.3 620.2 L495.5 626.0 L496.7 631.2 L497.0 632.8 L497.9 637.1 L499.1 643.0 L500.0 647.7 L500.2 648.8 L501.4 653.9 L502.6 658.7 L503.0 660.6 L503.7 663.5 L504.7 667.9 L505.7 672.3 L506.0 673.8 L506.6 676.0 L507.4 679.3 L508.2 682.4 L509.0 685.2 L509.0 685.3 L509.8 688.2 L510.7 690.9 L511.6 693.3 L512.0 694.4 L512.7 696.1 L513.9 698.4 L515.0 700.2 L515.1 700.5 L516.4 702.8 L517.6 704.8 L518.0 705.4 L518.7 706.3 L519.7 707.0 L521.0 708.0 L521.7 707.9 L523.4 705.8 L524.0 704.6 L525.0 703.0 L525.8 702.1 L526.5 700.9 L527.0 700.0 L527.2 699.4 L528.0 697.5 L528.9 694.8 L530.0 691.0 L531.0 687.8 L532.0 683.8 L533.0 680.2 L533.2 679.6 L534.4 676.0 L535.7 672.1 L536.0 671.1 L537.0 667.3 L538.2 662.0 L539.0 658.3 L539.4 656.3 L540.6 650.5 L541.7 644.2 L542.0 642.5 L542.9 637.5 L544.0 630.6 L545.0 624.5 L545.2 623.7 L546.3 617.3 L547.5 610.9 L548.0 607.8 L548.6 603.2 L549.8 596.1 L551.0 588.0 L551.0 587.7 L552.1 580.3 L553.3 572.4 L554.0 568.0 L554.5 564.5 L555.7 556.7 L556.8 549.1 L557.0 547.4 L557.8 540.9 L558.8 534.5 L559.7 527.6 L560.0 525.1 L560.5 521.0 L561.4 514.7 L562.2 508.4 L563.0 502.3 L563.0 502.0 L563.9 495.1 L564.8 487.7 L565.8 480.3 L566.0 478.6 L566.8 472.7 L567.9 465.1 L569.0 457.6 L569.0 457.4 L570.1 449.5 L571.1 442.0 L572.0 435.4 L572.0 435.3 L572.8 430.0 L573.4 426.3 L573.8 423.5 L574.2 421.5 L574.4 420.0 L574.7 418.6 L575.0 417.2 L575.0 416.9 L575.5 414.4 L576.2 410.0 L577.1 406.3 L578.0 401.4 L578.1 400.8 L579.2 394.3 L580.4 387.3 L581.0 384.2 L581.7 380.7 L583.0 374.5 L584.0 369.6 L584.2 368.6 L585.4 364.0 L586.5 358.5 L587.0 356.6 L587.6 354.3 L588.7 350.6 L589.9 347.1 L590.0 346.6 L591.0 342.7 L592.1 338.1 L593.0 334.8 L593.3 333.7 L594.6 329.4 L595.9 325.1 L596.0 324.9 L597.3 320.0 L598.8 314.7 L599.0 313.9 L600.3 309.9 L601.8 305.3 L602.0 304.6 L603.3 300.6 L604.7 296.1 L605.0 295.4 L606.2 292.4 L607.6 288.5 L608.0 287.7 L609.1 285.5 L610.5 282.9 L611.0 282.0 L612.0 280.2 L613.4 277.6 L614.0 276.5 L614.8 275.2 L616.3 272.9 L617.0 271.6 L617.7 269.4 L619.1 267.0 L620.0 265.1 L620.6 264.0 L622.0 261.3 L623.0 259.5 L623.5 258.5 L625.0 255.5 L626.0 253.3 L626.4 252.6 L627.9 249.9 L629.0 247.9 L629.3 246.3 L630.7 244.4 L632.0 241.8 L632.1 241.6 L633.4 238.7 L634.8 235.9 L635.0 235.4 L636.1 234.1 L637.6 232.7 L638.0 232.3 L639.1 230.8 L640.8 227.8 L641.0 228.6 L642.6 226.6 L644.0 225.1 L644.6 224.3 L646.6 221.8 L647.0 221.3 L648.7 219.8 L650.0 218.9 L650.9 217.7 L653.0 215.2 L653.0 215.2 L655.1 214.5 L656.0 214.3 L657.0 212.8 L659.0 211.8 L659.2 211.6 L661.4 210.2 L662.0 209.9 L663.6 209.1 L665.0 208.5 L665.7 208.7 L667.7 209.2 L668.0 209.3 L669.4 208.8 L670.9 207.0 L671.0 208.0 L672.2 205.6 L672.9 203.3 L673.3 201.0 L674.0 198.6 L674.0 198.6 L675.5 197.8 L676.9 197.6 L677.0 197.6 L678.7 196.3 L680.0 195.5 L680.6 195.1 L682.7 194.1 L683.0 193.9 L684.9 193.5 L686.0 193.3 L687.1 193.4 L689.0 193.5 L689.4 193.4 L691.6 192.0 L692.0 192.7 L693.8 190.9 L695.0 189.7 L695.9 189.7 L698.0 189.7 L698.1 189.6 L700.4 187.8 L701.0 187.2 L702.6 187.4 L704.0 187.5 L705.0 186.9 L707.0 185.6 L707.5 185.6 L710.0 185.0 L712.7 185.3 L713.0 185.2 L715.7 183.6 L716.0 183.5 L718.9 183.9 L719.0 183.9 L722.0 181.7 L722.0 181.7 L725.0 180.6 L725.1 180.6 L728.0 181.0 L728.1 181.0 L730.8 179.1 L731.0 179.0 L733.2 179.3 L734.0 178.3 L735.7 177.8 L737.0 177.1 L737.4 176.9 L738.9 175.9 L740.0 175.2 L740.4 174.7 L742.2 172.9 L743.0 172.4 L744.8 172.4 L746.0 171.0 L747.3 171.4 L749.0 172.0 L750.4 171.1 L752.0 170.0 L753.7 170.4 L755.0 170.8 L757.1 170.2 L758.0 170.0 L760.6 168.5 L761.0 168.3 L763.9 168.0 L764.0 168.0 L766.9 167.7 L767.0 167.7 L769.5 167.4 L770.0 167.7 L772.2 167.7 L773.0 167.8 L774.4 168.0 L776.0 168.6 L776.2 168.6 L777.9 169.4 L779.0 169.8 L779.6 170.1 L781.4 169.8 L782.0 170.7 L783.4 170.1 L785.0 169.2 L785.4 169.1 L787.4 168.3 L788.0 168.1 L789.4 167.8 L791.0 167.6 L791.4 167.3 L793.4 166.3 L794.0 165.5 L795.4 165.1 L797.0 164.4 L797.4 164.5 L799.4 164.6 L800.0 164.7 L801.3 163.7 L803.0 162.8 L803.3 162.7 L805.3 162.7 L806.0 163.1 L807.3 163.1 L809.0 163.6 L809.3 163.9 L811.2 166.2 L812.0 167.1 L813.2 168.2 L815.0 169.5 L815.2 169.5 L817.2 169.8 L818.0 168.5 L818.9 168.5 L820.6 168.0 L821.0 167.8 L822.3 166.5 L824.0 164.7 L824.1 164.6 L825.8 162.1 L827.0 160.6 L827.5 160.4 L829.2 160.3 L830.0 160.6 L831.2 160.4 L833.0 160.7 L833.2 160.7 L835.2 162.0 L836.0 162.6 L837.1 162.9 L839.0 163.2 L839.1 163.3 L841.1 163.9 L842.0 164.3 L843.1 164.2 L845.0 163.8 L845.1 163.8 L847.0 162.1 L848.0 161.2 L849.0 160.8 L851.0 160.1 L851.0 160.1 L853.0 160.3 L854.0 160.3 L855.0 160.1 L857.0 159.5 L859.0 157.5 L860.0 156.5 L861.0 156.2 L863.0 155.8 L863.0 155.8 L865.0 155.5 L866.0 155.7 L866.9 155.6 L868.8 155.7 L869.0 155.8 L870.7 156.5 L872.0 157.0 L872.6 157.2 L874.7 157.5 L875.0 157.4 L876.8 157.7 L878.0 157.0 L878.5 156.9 L880.2 156.4 L881.0 156.0 L881.9 155.3 L883.7 153.7 L884.0 153.4 L885.6 152.5 L887.0 151.7 L887.6 151.5 L889.6 150.9 L890.0 150.9 L891.8 149.5 L893.0 148.0 L894.1 148.1 L896.0 148.1 L896.5 148.0 L899.0 147.5 L899.1 147.5 L901.7 145.8 L902.0 145.6 L904.4 144.8 L905.0 144.7 L907.1 145.3 L908.0 145.6 L909.9 144.4 L911.0 143.8 L912.7 144.3 L914.0 143.5 L915.6 143.9 L917.0 144.3 L918.7 144.9 L920.0 145.4 L921.8 144.8 L923.0 144.4 L925.0 145.1 L926.0 145.5 L928.1 146.0 L929.0 146.1 L931.1 147.4 L932.0 147.9 L933.9 147.5 L935.0 147.1 L936.5 147.3 L938.0 148.0 L939.1 147.1 L941.0 145.4 L941.5 145.2 L943.7 144.5 L944.0 144.4 L945.7 143.9 L947.0 143.6 L947.6 143.4 L949.5 143.1 L950.0 143.1 L951.4 142.0 L953.0 142.4 L953.7 142.4 L955.9 143.5 L956.0 143.5 L958.0 145.1 L959.0 145.8 L960.1 147.1 L961.9 148.8 L962.0 148.9 L963.4 148.8 L964.5 147.1 L965.0 145.7 L965.3 145.2 L966.0 143.1 L966.5 140.8 L967.0 138.4 L967.5 136.3 L968.0 134.0 L969.5 130.8 L970.8 129.5 L971.0 130.9 L971.3 131.6 L971.7 133.6 L972.2 136.2 L972.7 138.7 L973.3 140.9 L974.0 143.0 L976.8 143.5 L977.0 143.4 L979.8 142.8 L980.0 143.4 L981.7 141.8 L983.0 140.1 L983.5 139.6 L985.0 137.0 L985.9 135.2 L986.0 134.9 L986.5 132.3 L987.2 131.0 L987.5 132.5 L987.7 135.0 L988.0 137.9 L988.6 140.2 L989.0 140.5 L990.0 142.0 L991.4 141.3 L992.0 141.1 L993.1 141.0 L995.0 140.6 L995.1 140.6 L997.3 140.7 L998.0 140.7 L999.7 139.3 L1001.0 138.4 L1002.3 138.1 L1004.0 138.0 L1005.0 138.3 L1007.0 138.1 L1007.6 138.1 L1010.0 138.4 L1010.4 138.4 L1013.0 138.7 L1013.4 139.0 L1016.0 140.5 L1016.5 140.2 L1019.0 139.0 L1019.7 139.0 L1022.0 139.0 L1022.9 139.8 L1025.0 141.7 L1026.0 141.7 L1028.0 141.6 L1029.0 140.6 L1031.0 141.7 L1031.9 141.1 L1034.0 139.8 L1034.9 140.0 L1037.0 140.4 L1037.8 140.2 L1040.0 139.6 L1040.8 138.9 L1043.0 136.9 L1043.6 137.0 L1046.0 137.5 L1046.4 137.5 L1049.0 137.2 L1049.0 137.2 L1051.4 136.1 L1052.0 136.6 L1053.9 136.5 L1055.0 136.6 L1056.1 136.6 L1058.0 136.9 L1058.2 137.0 L1060.1 137.8 L1061.0 138.2 L1062.0 138.5 L1064.0 138.9 L1064.1 138.9 L1066.3 139.8 L1067.0 138.6 L1068.5 139.2 L1070.0 139.6 L1070.8 139.3 L1073.0 138.2 L1073.3 138.3 L1075.8 138.7 L1076.0 138.8 L1078.2 136.7 L1079.0 136.0 L1080.5 136.7 L1082.0 137.5 L1082.5 137.3 L1084.2 136.1 L1085.0 136.8 L1086.5 137.5 L1087.5 139.0 L1088.0 139.3 L1090.0 138.8 L1091.0 139.8 L1091.8 139.7 L1094.0 139.5 L1094.1 139.4 L1096.7 138.3 L1097.0 138.2 L1099.4 136.6 L1100.0 136.2 L1102.2 137.3 L1103.0 137.7 L1104.9 136.5 L1106.0 135.8 L1107.3 135.8 L1109.0 136.0 L1109.4 136.5 L1112.0 137.4 L1112.0 137.4 L1114.1 138.2 L1115.0 138.6 L1116.0 139.1 L1117.8 139.8 L1118.0 139.8 L1119.8 140.3 L1121.0 141.1 L1121.7 140.8 L1123.6 139.2 L1124.0 138.9 L1125.6 137.5 L1127.0 136.3 L1127.6 135.9 L1129.7 134.8 L1130.0 134.7 L1131.8 135.0 L1133.0 136.1 L1133.7 136.0 L1135.6 136.1 L1136.0 136.2 L1137.6 137.5 L1139.0 138.7 L1139.6 138.8 L1141.5 139.1 L1142.0 139.1 L1143.4 139.5 L1145.0 139.5 L1145.2 140.3 L1147.1 139.6 L1148.0 139.3 L1148.8 139.0 L1150.4 137.9 L1151.0 137.6 L1152.0 136.1 L1153.7 134.0 L1154.0 133.8 L1155.6 134.3 L1157.0 135.3 L1157.4 135.4 L1159.3 136.4 L1160.0 136.9 L1161.3 137.5 L1163.0 138.3 L1163.3 138.5 L1165.3 139.7 L1166.0 140.1 L1167.2 139.8 L1169.0 140.3 L1171.3 140.1 L1172.0 140.3 L1173.3 140.1 L1175.0 139.6 L1175.3 139.2 L1177.4 136.9 L1178.0 136.4 L1179.5 137.3 L1181.0 136.9 L1181.5 136.9 L1183.6 137.5 L1184.0 137.7 L1185.7 138.6 L1187.0 139.4 L1187.8 139.6 L1189.7 139.9 L1190.0 140.0 L1191.4 140.3 L1193.0 139.5 L1193.6 139.4 L1195.2 138.0 L1196.0 137.9 L1197.4 136.5 L1199.0 135.4 L1199.1 135.4 L1201.1 136.0 L1202.0 136.3 L1203.3 136.8 L1205.0 137.5 L1205.4 137.7 L1207.5 138.2 L1208.0 138.3 L1209.3 139.5 L1211.0 138.1 L1212.0 138.7 L1214.0 139.4 L1214.1 139.3 L1216.8 137.3 L1217.0 138.2 L1219.0 136.6 L1220.0 135.9 L1221.6 136.4 L1223.0 136.8 L1224.3 136.6 L1226.0 136.4 L1226.7 136.4 L1228.7 137.3 L1229.0 137.2 L1230.1 138.7 L1230.8 141.2 L1232.0 142.1 L1233.2 143.3 L1235.0 143.8 L1235.0 143.8 L1237.0 143.7 L1238.0 143.5 L1239.4 143.1 L1241.0 142.6 L1242.0 142.4 L1244.0 141.8 L1244.8 141.8 L1247.0 141.8 L1247.8 141.6 L1250.0 141.0 L1250.8 141.3 L1253.0 142.0 L1254.0 141.8 L1256.0 142.4 L1257.3 142.0 L1259.0 141.5 L1260.9 141.1 L1262.0 140.8 L1264.6 141.1 L1265.0 141.2 L1268.0 141.8 L1268.4 141.9 L1271.0 142.5 L1272.4 142.8 L1274.0 143.1 L1276.3 142.4 L1277.0 142.1 L1280.0 143.3 L1280.2 143.3 L1283.0 142.8 L1284.0 142.5 L1286.0 142.3 L1287.8 142.1 L1289.0 142.0 L1291.5 142.1 L1292.0 142.2 L1295.0 142.5 L1295.3 142.4 L1298.0 141.6 L1299.1 141.7 L1301.0 142.1 L1302.8 141.6 L1304.0 141.3 L1306.5 140.6 L1307.0 140.5 L1310.0 141.2 L1310.2 141.2 L1313.0 141.5 L1313.7 141.0 L1316.0 139.9 L1317.1 140.3 L1319.0 141.0 L1320.2 141.0 L1322.0 141.2 L1323.2 141.8 L1325.0 142.6 L1326.2 142.8 L1328.0 143.0 L1329.3 142.5 L1331.0 141.8 L1332.5 142.6 L1334.0 143.4 L1336.1 143.3 L1337.0 143.2 L1340.0 142.5 L1343.0 142.4 L1344.3 142.0 L1346.0 141.4 L1348.9 143.1 L1349.0 143.1 L1352.0 142.6 L1353.8 142.9 L1355.0 143.0 L1358.0 142.6 L1358.9 142.5 L1361.0 142.2 L1364.0 142.2 L1364.1 142.2 L1367.0 141.6 L1369.4 140.6 L1370.0 140.3 L1373.0 141.4 L1374.7 140.5 L1376.0 139.8 L1379.0 140.1 L1380.0 141.0 L1382.0 141.7 L1385.0 139.7 L1385.3 139.8 L1388.0 139.9 L1390.8 139.9 L1391.0 139.9 L1394.0 141.9 L1396.3 140.5 L1397.0 140.1 L1400.0 139.7 L1401.9 141.0 L1403.0 141.8 L1406.0 139.9 L1407.5 140.9 L1409.0 141.8 L1412.0 141.4 L1413.2 141.6 L1415.0 141.8 L1418.0 142.2 L1418.8 141.9 L1421.0 141.2 L1424.0 141.8 L1424.4 141.0 L1427.0 139.8 L1430.0 141.7 L1430.0 141.7 L1433.0 141.1 L1435.6 141.5 L1436.0 141.6 L1439.0 140.0 L1441.2 141.3 L1442.0 141.7 L1445.0 142.2 L1446.8 140.9 L1448.0 140.0 L1451.0 140.6 L1452.4 140.9 L1454.0 141.3 L1457.0 142.0 L1458.0 141.5 L1460.0 140.4 L1463.0 140.2 L1463.6 140.3 L1466.0 140.4 L1469.0 141.3 L1469.2 141.0 L1472.0 141.6 L1474.9 140.6 L1475.0 140.6 L1478.0 140.4 L1480.7 140.4 L1481.0 140.4 L1484.0 140.2 L1486.7 140.2 L1487.0 140.3 L1490.0 139.3 L1492.5 140.1 L1493.0 140.2 L1496.0 141.3 L1498.3 140.1 L1499.0 139.8 L1502.0 140.5 L1503.8 139.5 L1505.0 138.9 L1508.0 140.2 L1509.1 140.2 L1511.0 140.2 L1514.0 139.5 L1517.0 139.5 L1518.7 139.4 L1520.0 139.4 L1523.0 139.8 L1523.2 139.8 L1526.0 140.4 L1527.7 139.4 L1529.0 138.5 L1531.8 138.4 L1532.0 138.4 L1535.0 140.1 L1535.6 140.2 L1538.0 140.5 L1539.0 140.2 L1541.0 139.5 L1541.8 139.5 L1544.0 139.5" fill="none" stroke="#0000ff" stroke-width="5" stroke-linejoin="round" stroke-linecap="butt"/><path d="M281.0 1049.5 L282.4 1049.5 L284.3 1049.5 L286.6 1049.5 L289.1 1049.5 L291.8 1049.5 L294.6 1049.5 L297.4 1049.5 L300.0 1049.5 L302.7 1049.5 L305.6 1049.5 L308.6 1049.5 L311.7 1049.5 L314.6 1049.5 L317.4 1049.5 L319.9 1049.5 L322.0 1049.5 L325.0 1049.4 L327.0 1049.3 L328.5 1049.2 L330.0 1049.0 L332.2 1048.7 L334.1 1048.3 L336.0 1047.8 L338.6 1046.8 L341.0 1045.5 L342.7 1044.3 L344.4 1043.0 L346.0 1041.5 L347.4 1040.0 L348.7 1038.4 L350.0 1036.5 L351.0 1034.9 L352.0 1033.1 L353.0 1031.3 L354.0 1029.5 L354.9 1027.7 L355.8 1025.9 L356.7 1024.1 L357.6 1022.3 L358.7 1020.0 L359.9 1017.7 L361.0 1015.5 L362.2 1013.3 L363.3 1011.3 L364.5 1009.5 L366.2 1007.5 L368.0 1006.0 L370.0 1004.9 L372.0 1004.5 L374.0 1004.9 L376.0 1006.0 L378.0 1007.8 L380.0 1010.0 L381.3 1011.8 L382.7 1013.7 L384.0 1015.5 L386.0 1017.7 L388.0 1019.5 L390.0 1020.8 L392.0 1021.5 L394.0 1021.7 L396.0 1020.5 L397.1 1018.9 L398.4 1016.8 L399.6 1014.3 L400.6 1012.0 L401.5 1009.8 L402.2 1007.5 L402.9 1005.2 L403.5 1003.0 L404.0 1001.0 L404.4 999.0 L404.8 997.0 L405.2 994.6 L405.5 992.7 L405.8 990.7 L406.1 988.5 L406.5 986.3 L406.7 984.1 L407.0 982.0 L407.2 980.1 L407.4 978.3 L407.5 976.5 L407.7 974.6 L407.8 972.5 L408.0 970.0 L408.2 968.0 L408.3 965.8 L408.5 963.5 L408.7 961.1 L408.9 958.6 L409.1 955.9 L409.3 953.0 L409.5 950.0 L409.7 946.7 L409.9 943.1 L410.2 939.3 L410.4 935.3 L410.7 931.3 L410.9 927.4 L411.2 923.6 L411.5 920.0 L411.8 917.0 L412.1 914.6 L412.5 912.5 L412.9 910.3 L413.2 907.8 L413.6 904.6 L413.9 900.5 L414.3 895.0 L414.6 887.9 L415.0 879.4 L415.3 869.9 L415.6 859.7 L416.0 849.2 L416.3 838.9 L416.6 829.0 L417.0 820.0 L417.4 811.6 L417.7 803.5 L418.1 795.5 L418.5 787.8 L418.9 780.4 L419.3 773.2 L419.6 766.4 L420.0 760.0 L420.3 754.0 L420.7 748.4 L421.0 743.1 L421.3 738.1 L421.6 733.4 L421.9 728.8 L422.2 724.4 L422.5 720.0 L422.8 715.8 L423.0 711.8 L423.2 708.0 L423.4 704.3 L423.6 700.7 L423.9 697.2 L424.2 693.6 L424.5 690.0 L424.9 686.4 L425.3 682.8 L425.8 679.3 L426.3 675.8 L426.9 672.3 L427.4 668.6 L428.0 664.9 L428.5 661.0 L429.0 656.8 L429.6 652.3 L430.2 647.7 L430.8 643.0 L431.3 638.4 L431.9 633.9 L432.5 629.7 L433.0 626.0 L433.5 622.6 L434.0 619.5 L434.5 616.6 L435.0 613.9 L435.5 611.5 L436.0 609.1 L436.5 607.0 L437.0 605.0 L437.8 602.2 L438.6 599.8 L439.4 597.9 L440.2 596.3 L441.0 595.0 L442.8 593.1 L444.7 593.0 L446.0 593.9 L447.5 595.6 L449.0 598.0 L449.9 599.5 L450.8 601.3 L451.7 603.2 L452.7 605.3 L453.6 607.2 L454.4 609.0 L455.5 611.4 L456.6 613.6 L457.5 615.7 L458.5 618.0 L459.3 619.9 L460.0 621.8 L460.7 623.8 L461.4 625.9 L462.1 628.0 L462.6 629.8 L463.0 631.6 L463.3 633.5 L463.7 635.4 L464.2 637.6 L464.8 640.0 L465.4 642.0 L466.0 644.2 L466.7 646.5 L467.5 648.8 L468.2 651.3 L468.9 653.7 L469.7 656.1 L470.3 658.5 L470.9 660.4 L471.5 662.7 L472.0 665.0 L472.5 667.3 L473.0 669.4 L473.0 669.6 L473.6 672.0 L474.1 674.3 L474.6 677.0 L475.1 679.0 L475.7 681.3 L476.0 682.8 L476.2 683.5 L476.7 685.6 L477.2 687.8 L477.8 690.1 L478.3 692.5 L478.9 695.4 L479.0 695.4 L479.5 697.8 L480.2 700.7 L480.8 703.7 L481.5 706.8 L482.0 709.1 L482.2 710.1 L482.9 713.3 L483.6 716.6 L484.2 720.0 L484.8 722.9 L485.0 723.8 L485.5 726.1 L486.1 729.4 L486.7 732.6 L487.3 735.7 L487.9 738.8 L488.0 739.5 L488.4 741.7 L489.0 744.0 L489.5 747.0 L490.0 749.5 L490.5 751.9 L491.0 754.2 L491.0 754.4 L491.4 756.4 L491.9 758.7 L492.4 761.0 L492.9 763.0 L493.5 765.7 L494.0 768.0 L494.0 768.1 L494.6 770.3 L495.2 772.6 L495.8 774.8 L496.4 777.0 L497.0 779.1 L497.0 779.3 L497.7 782.0 L498.4 784.3 L499.1 786.9 L499.9 789.5 L500.0 789.9 L500.7 792.0 L501.4 794.4 L502.2 796.6 L502.9 798.8 L503.0 799.2 L503.5 801.0 L504.4 803.4 L505.2 805.7 L506.0 807.7 L506.0 807.7 L506.7 809.6 L507.5 812.0 L508.4 814.0 L509.0 815.4 L509.4 816.4 L510.3 818.6 L511.2 821.0 L512.0 822.1 L512.5 823.1 L513.7 825.5 L515.0 827.0 L516.9 829.4 L518.0 830.0 L518.8 830.0 L521.0 829.8 L522.5 828.5 L523.7 827.8 L524.0 827.4 L525.0 825.7 L526.3 823.0 L527.0 821.3 L527.5 821.0 L528.2 818.7 L528.9 817.0 L529.5 815.2 L530.0 813.6 L530.2 813.1 L530.8 810.8 L531.5 808.0 L532.1 805.4 L532.6 802.4 L533.0 800.6 L533.3 799.2 L533.9 795.7 L534.5 792.2 L535.1 788.8 L535.7 785.5 L536.0 783.6 L536.2 782.0 L536.7 779.9 L537.2 777.5 L537.7 775.2 L538.1 773.0 L538.6 770.9 L539.0 768.9 L539.1 768.6 L539.5 766.3 L540.0 763.0 L540.5 761.2 L540.9 758.5 L541.4 755.8 L541.9 753.0 L542.0 752.3 L542.4 749.9 L542.9 746.6 L543.4 743.2 L544.0 740.0 L544.6 736.0 L545.0 733.9 L545.3 732.6 L546.0 729.4 L546.7 726.1 L547.4 722.7 L548.0 720.1 L548.2 719.2 L548.9 715.3 L549.6 711.0 L550.3 707.1 L551.0 702.7 L551.0 702.4 L551.6 698.0 L552.3 693.2 L553.0 688.4 L553.7 683.5 L554.0 681.1 L554.4 678.6 L555.1 674.0 L555.9 668.9 L556.7 664.1 L557.0 662.4 L557.5 659.5 L558.4 655.1 L559.3 650.7 L560.0 646.7 L560.1 646.2 L560.9 641.3 L561.6 637.0 L562.3 631.7 L562.9 626.8 L563.0 625.8 L563.4 622.4 L564.0 618.1 L564.5 613.8 L565.1 609.5 L565.6 605.2 L566.0 602.5 L566.2 600.0 L566.8 596.5 L567.4 592.0 L568.0 587.7 L568.6 583.3 L569.0 580.4 L569.2 578.9 L569.9 574.4 L570.5 569.9 L571.3 565.0 L572.0 561.2 L572.1 560.6 L573.0 555.8 L573.9 551.0 L574.9 546.2 L575.0 545.5 L575.8 541.9 L576.8 537.7 L577.8 533.4 L578.0 532.4 L578.7 528.0 L579.6 523.9 L580.5 519.0 L581.0 516.3 L581.4 514.4 L582.3 510.0 L583.2 505.5 L584.0 501.6 L584.1 501.1 L585.0 496.4 L586.0 491.0 L587.0 487.1 L587.0 487.1 L588.0 482.3 L589.0 477.4 L590.0 472.9 L590.1 472.5 L591.1 467.8 L592.2 463.1 L593.0 459.7 L593.3 458.5 L594.4 454.0 L595.5 449.5 L596.0 447.4 L596.6 444.9 L597.7 440.1 L598.8 435.4 L599.0 434.4 L599.9 430.5 L601.1 425.7 L602.0 422.1 L602.3 420.9 L603.6 417.0 L604.9 411.9 L605.0 411.8 L606.3 407.8 L607.8 403.7 L608.0 403.1 L609.3 398.4 L610.8 392.9 L611.0 392.2 L612.4 388.2 L614.0 383.6 L614.0 383.5 L615.6 380.0 L617.0 376.4 L617.3 375.6 L619.0 370.5 L620.0 367.6 L620.8 365.7 L622.6 361.4 L623.0 360.4 L624.4 356.9 L626.0 352.9 L626.2 352.3 L628.1 347.8 L629.0 345.8 L630.0 344.0 L632.0 341.1 L632.0 341.0 L634.0 336.1 L635.0 333.7 L636.1 331.9 L638.0 328.9 L638.2 328.5 L640.3 324.7 L641.0 323.5 L642.3 321.7 L644.0 319.5 L644.2 319.1 L646.0 316.0 L647.0 313.9 L647.6 312.9 L649.1 310.7 L650.0 309.3 L650.4 308.8 L651.7 307.2 L652.9 305.8 L653.0 305.7 L654.2 303.7 L655.6 301.5 L656.0 300.9 L657.1 300.0 L658.7 298.3 L659.0 298.1 L660.5 296.9 L662.0 295.9 L662.3 295.4 L664.2 292.6 L665.0 291.4 L666.0 290.5 L667.8 288.9 L668.0 288.7 L669.5 287.6 L671.0 287.0 L672.8 285.4 L674.0 284.7 L674.3 284.4 L675.7 282.9 L677.0 281.4 L677.0 281.4 L678.4 279.7 L680.0 278.5 L681.4 276.8 L682.9 275.8 L683.0 275.7 L684.4 274.5 L686.0 273.1 L686.0 273.1 L687.6 272.2 L689.0 271.5 L689.4 271.1 L691.2 270.0 L692.0 268.4 L692.9 268.2 L694.8 267.8 L695.0 267.7 L696.8 266.8 L698.0 266.1 L698.8 265.6 L700.8 264.3 L701.0 264.2 L702.8 262.6 L704.0 261.6 L704.8 261.1 L706.7 259.1 L707.0 259.9 L708.6 257.7 L710.0 255.5 L710.4 255.3 L712.3 254.2 L713.0 253.8 L714.1 253.5 L715.9 253.0 L716.0 252.9 L717.6 251.5 L719.0 250.2 L719.2 250.0 L720.7 248.3 L722.0 247.1 L722.9 246.8 L724.8 246.0 L725.0 245.9 L726.5 244.4 L728.0 243.1 L728.2 243.0 L730.0 242.0 L731.0 242.8 L732.4 242.3 L734.0 242.3 L734.7 242.6 L737.0 243.2 L737.1 243.2 L739.3 243.6 L740.0 242.9 L740.6 242.2 L741.8 240.1 L742.9 237.8 L743.0 237.5 L744.0 235.7 L745.4 233.9 L746.0 233.4 L747.0 232.7 L748.7 232.6 L749.0 232.6 L750.5 231.2 L752.0 230.0 L752.6 229.7 L754.7 228.6 L755.0 228.5 L756.8 228.1 L758.0 227.8 L758.9 227.7 L761.0 228.1 L763.0 227.8 L764.0 228.1 L765.0 227.6 L767.0 226.8 L767.0 226.8 L769.0 226.4 L770.0 226.1 L771.0 225.8 L773.0 225.0 L773.0 225.0 L775.0 225.0 L776.0 225.5 L776.8 224.7 L778.5 222.7 L779.0 222.1 L780.3 220.8 L782.0 219.0 L782.1 218.9 L783.8 217.1 L785.0 216.0 L785.5 215.5 L787.2 214.2 L788.0 213.7 L788.9 214.1 L791.0 212.3 L791.1 212.3 L793.3 212.3 L794.0 212.3 L795.4 211.3 L797.0 210.4 L797.5 210.2 L799.4 209.9 L800.0 209.9 L801.3 211.0 L803.0 211.8 L803.3 211.9 L804.9 213.3 L806.0 214.4 L806.6 215.4 L808.4 217.8 L809.0 218.2 L810.6 217.2 L812.0 215.7 L812.2 215.7 L814.1 214.9 L815.0 214.4 L816.0 213.7 L818.0 212.1 L818.0 212.1 L820.1 209.5 L821.0 208.4 L822.2 207.9 L824.0 207.2 L824.2 206.9 L826.2 204.8 L827.0 204.5 L828.4 203.8 L830.0 203.3 L830.6 203.3 L832.8 203.5 L833.0 203.5 L835.1 203.0 L836.0 202.8 L837.3 203.2 L839.0 203.6 L839.5 203.5 L841.7 203.3 L842.0 202.6 L843.6 202.8 L845.0 202.7 L845.6 202.4 L847.5 201.2 L848.0 200.8 L849.5 199.6 L851.0 198.2 L851.4 197.9 L853.3 196.1 L854.0 195.6 L855.3 195.2 L857.0 195.0 L857.2 195.5 L859.4 194.8 L860.0 194.9 L861.6 195.1 L863.0 195.4 L863.8 195.6 L866.0 196.3 L866.1 196.3 L868.3 197.9 L869.0 198.2 L870.5 197.5 L872.0 196.4 L872.7 197.1 L874.7 195.1 L875.0 194.8 L876.8 194.6 L878.0 194.3 L878.8 193.3 L880.9 190.6 L881.0 190.5 L882.9 189.2 L884.0 188.5 L884.9 187.3 L886.6 185.3 L887.0 185.0 L888.2 184.7 L890.0 186.2 L890.3 186.2 L891.9 188.0 L893.0 189.9 L893.3 190.5 L894.7 193.0 L896.0 194.0 L896.2 193.5 L897.9 193.5 L899.0 192.6 L899.7 191.9 L901.5 189.5 L902.0 188.9 L903.3 187.0 L905.0 186.0 L907.1 184.2 L908.0 184.2 L909.3 184.6 L911.0 185.1 L911.2 185.1 L912.7 183.0 L913.3 181.8 L913.2 178.8 L913.2 176.0 L914.0 174.6 L914.1 173.4 L915.7 174.4 L917.0 174.8 L917.7 174.7 L920.0 174.5 L920.1 174.6 L922.6 176.5 L923.0 176.7 L925.0 177.0 L926.0 178.1 L927.2 178.3 L929.0 178.7 L929.4 179.0 L931.6 180.0 L932.0 180.1 L934.0 179.9 L935.0 179.6 L936.5 179.4 L938.0 179.3 L938.2 179.2 L940.0 178.3 L941.0 177.7 L941.9 176.7 L943.8 174.7 L944.0 174.5 L945.8 174.3 L947.0 174.3 L947.7 174.0 L949.6 173.3 L950.0 173.3 L951.4 171.9 L953.0 171.2 L953.2 171.5 L955.1 174.1 L956.0 175.6 L957.0 176.4 L958.9 178.2 L959.0 178.3 L960.7 179.5 L962.0 180.3 L962.3 180.4 L963.7 180.4 L964.9 180.9 L965.0 179.6 L965.8 179.2 L966.3 177.7 L966.7 175.3 L966.9 172.6 L967.1 169.8 L967.2 167.3 L967.4 165.4 L967.8 163.7 L968.0 164.8 L968.7 164.7 L969.7 166.5 L970.8 168.8 L971.0 169.1 L972.0 172.0 L973.8 175.3 L974.0 175.6 L975.9 176.7 L977.0 176.2 L978.3 175.6 L979.3 173.7 L980.0 172.1 L980.4 171.5 L981.6 169.3 L982.8 166.8 L983.0 166.4 L984.0 164.8 L985.1 163.1 L986.0 162.1 L986.2 161.8 L987.2 160.7 L988.3 161.4 L989.0 162.8 L989.2 163.2 L990.0 165.8 L990.9 168.6 L991.9 170.8 L992.0 170.9 L993.2 171.2 L994.8 171.9 L995.0 171.8 L996.5 169.8 L998.0 167.4 L998.4 167.0 L1000.4 164.8 L1001.0 164.3 L1002.6 164.5 L1004.0 165.1 L1005.0 163.7 L1006.9 162.6 L1007.0 162.5 L1009.0 164.5 L1010.0 165.6 L1011.2 165.3 L1013.0 164.9 L1013.4 165.3 L1015.8 167.6 L1016.0 167.9 L1018.1 168.5 L1019.0 168.6 L1020.6 169.1 L1022.0 169.2 L1023.0 168.2 L1025.0 167.9 L1025.4 167.9 L1027.8 167.7 L1028.0 167.6 L1030.3 165.1 L1031.0 164.3 L1032.8 164.0 L1034.0 163.8 L1035.4 162.7 L1037.0 161.3 L1038.1 161.3 L1040.0 161.5 L1040.9 161.0 L1043.0 160.2 L1044.0 159.2 L1046.0 158.7 L1047.5 158.5 L1049.0 158.4 L1051.5 156.9 L1052.0 156.6 L1055.0 156.2 L1055.7 156.4 L1058.0 157.3 L1060.0 156.9 L1061.0 156.8 L1064.0 157.6 L1064.2 157.5 L1067.0 156.9 L1068.0 156.5 L1070.0 155.9 L1071.2 156.3 L1073.0 157.1 L1073.7 157.7 L1075.3 159.6 L1076.0 161.6 L1076.2 162.0 L1076.6 164.7 L1076.6 167.6 L1076.3 170.4 L1076.1 172.8 L1075.9 174.3 L1076.0 174.1 L1076.2 173.9 L1076.3 171.9 L1076.4 169.1 L1076.5 165.9 L1076.7 162.6 L1077.0 159.4 L1077.5 156.8 L1078.2 154.7 L1079.0 154.2 L1079.9 153.3 L1082.0 152.4 L1082.1 152.4 L1084.6 154.9 L1085.0 155.4 L1087.3 156.2 L1088.0 156.3 L1090.0 156.0 L1091.0 155.1 L1091.9 155.7 L1093.8 157.0 L1094.0 157.2 L1095.7 157.5 L1097.0 157.7 L1097.7 158.1 L1099.9 159.4 L1100.0 159.5 L1102.3 158.8 L1103.0 158.5 L1105.0 159.0 L1106.0 158.2 L1107.7 158.4 L1109.0 158.4 L1110.8 158.8 L1112.0 159.0 L1114.1 156.8 L1115.0 155.9 L1117.6 155.3 L1118.0 155.2 L1121.0 155.7 L1121.0 155.7 L1124.0 155.7 L1124.4 155.5 L1127.0 154.1 L1127.5 154.0 L1130.0 153.6 L1130.3 153.7 L1132.8 154.7 L1133.0 154.8 L1135.2 155.0 L1136.0 155.2 L1137.4 154.7 L1139.0 154.3 L1139.5 154.8 L1141.5 157.0 L1142.0 157.5 L1143.3 157.1 L1145.0 156.5 L1145.1 156.6 L1146.7 157.4 L1148.0 156.4 L1148.8 156.5 L1150.4 155.8 L1151.0 155.4 L1151.9 154.0 L1153.5 152.1 L1154.0 151.7 L1155.6 151.5 L1157.0 152.5 L1157.3 152.4 L1159.0 152.0 L1160.0 151.9 L1160.9 152.9 L1163.0 155.2 L1163.0 155.2 L1165.1 155.0 L1166.0 154.8 L1167.3 155.3 L1169.0 155.9 L1169.6 156.2 L1172.0 157.4 L1174.6 157.1 L1175.0 157.0 L1177.4 157.3 L1178.0 157.4 L1180.3 157.8 L1181.0 158.0 L1183.3 157.2 L1184.0 157.0 L1186.3 155.3 L1187.0 154.7 L1189.2 155.0 L1190.0 155.1 L1191.9 155.3 L1193.0 155.4 L1194.4 155.2 L1196.0 155.2 L1196.9 155.4 L1199.0 156.0 L1199.1 156.0 L1201.1 155.9 L1202.0 155.9 L1203.0 155.7 L1204.9 155.3 L1205.0 155.3 L1207.0 155.8 L1208.0 156.0 L1209.3 156.7 L1211.0 157.6 L1211.6 157.3 L1214.0 156.3 L1214.2 156.4 L1217.0 157.4 L1217.0 157.4 L1219.7 157.8 L1220.0 157.9 L1222.4 157.0 L1223.0 156.7 L1224.9 156.6 L1226.0 156.4 L1227.0 156.2 L1228.7 155.2 L1229.0 155.1 L1230.2 153.2 L1230.0 150.5 L1230.0 147.9 L1231.7 146.2 L1232.0 145.7 L1233.5 146.2 L1235.0 147.0 L1235.7 146.7 L1238.0 146.0 L1238.3 146.2 L1241.0 147.5 L1241.2 147.5 L1244.0 146.4 L1244.2 146.5 L1247.0 148.2 L1247.4 148.2 L1250.0 148.3 L1250.7 148.2 L1253.0 148.0 L1254.0 147.7 L1256.0 147.5 L1257.4 147.1 L1259.0 146.6 L1261.1 147.7 L1262.0 148.1 L1265.0 146.8 L1265.0 146.8 L1268.0 147.4 L1269.0 146.8 L1271.0 145.8 L1273.0 145.5 L1274.0 145.4 L1276.9 145.4 L1277.0 145.4 L1280.0 147.0 L1280.6 146.7 L1283.0 145.4 L1284.0 146.2 L1286.0 147.4 L1287.2 146.9 L1289.0 146.3 L1290.3 146.7 L1292.0 147.3 L1293.3 147.3 L1295.0 147.3 L1296.2 147.8 L1298.0 148.6 L1298.9 148.4 L1301.0 147.8 L1301.5 148.0 L1304.0 148.9 L1304.0 148.9 L1306.3 149.2 L1307.0 150.2 L1308.6 148.9 L1310.0 147.5 L1310.4 147.5 L1311.9 147.2 L1313.0 147.0 L1313.5 146.6 L1315.2 145.1 L1316.0 144.6 L1317.3 144.1 L1319.0 143.7 L1320.0 144.0 L1322.0 142.6 L1322.9 142.5 L1325.0 142.5 L1326.1 143.4 L1328.0 144.9 L1329.7 144.8 L1331.0 144.7 L1333.4 144.8 L1334.0 144.8 L1337.0 144.9 L1337.4 144.9 L1340.0 145.3 L1341.4 144.4 L1343.0 143.3 L1345.6 144.3 L1346.0 144.4 L1349.0 144.0 L1349.8 144.0 L1352.0 144.0 L1354.2 144.5 L1355.0 144.7 L1358.0 143.9 L1358.9 144.0 L1361.0 144.2 L1363.9 141.7 L1364.0 141.6 L1367.0 142.6 L1368.9 142.4 L1370.0 142.3 L1373.0 142.1 L1373.9 141.9 L1376.0 141.3 L1378.6 141.5 L1379.0 141.5 L1382.0 139.7 L1383.1 140.1 L1385.0 140.9 L1387.1 139.5 L1388.0 139.1 L1390.6 139.2 L1391.0 139.2 L1393.6 139.4 L1394.0 139.4 L1396.3 138.5 L1397.0 138.3 L1398.8 137.3 L1400.0 136.6 L1401.2 136.3 L1403.0 135.9 L1403.7 135.8 L1406.0 135.7 L1406.4 135.7 L1409.0 136.2 L1409.5 135.8 L1412.0 137.0 L1412.9 136.8 L1415.0 136.6 L1416.4 135.9 L1418.0 135.3 L1420.1 135.2 L1421.0 135.2 L1423.9 136.3 L1424.0 136.4 L1427.0 135.0 L1427.8 135.1 L1430.0 135.4 L1431.7 134.9 L1433.0 134.4 L1435.5 134.8 L1436.0 134.9 L1439.0 135.9 L1439.3 135.8 L1442.0 136.3 L1443.0 136.3 L1445.0 136.2 L1446.8 135.9 L1448.0 135.6 L1450.5 137.0 L1451.0 137.3 L1454.0 136.5 L1454.2 136.4 L1457.0 135.4 L1458.0 135.3 L1460.0 135.2 L1461.7 136.6 L1463.0 137.7 L1465.5 137.7 L1466.0 137.7 L1469.0 137.6 L1469.2 136.5 L1472.0 136.8 L1473.0 136.5 L1475.0 136.0 L1477.0 135.6 L1478.0 135.4 L1481.0 135.8 L1481.0 135.8 L1484.0 135.6 L1485.0 136.2 L1487.0 137.4 L1488.9 137.3 L1490.0 137.2 L1492.6 136.9 L1493.0 136.8 L1496.0 135.1 L1496.0 135.1 L1499.0 135.8 L1501.9 135.0 L1502.0 135.0 L1504.4 135.9 L1505.0 136.1 L1506.5 134.8 L1508.0 133.4 L1508.4 133.5 L1510.2 134.1 L1511.0 134.5 L1512.0 134.3 L1514.0 133.6 L1516.2 134.1 L1517.0 134.2 L1518.5 135.1 L1520.0 136.1 L1520.7 135.9 L1523.0 135.3 L1523.0 135.3 L1525.1 136.5 L1526.0 136.9 L1527.1 136.8 L1528.8 137.3 L1529.0 136.4 L1531.2 135.8 L1532.0 135.3 L1533.0 134.6 L1534.6 133.2 L1535.0 133.0 L1536.3 133.6 L1538.0 133.0 L1539.1 132.7 L1541.0 132.4 L1542.0 132.4 L1544.0 133.6" fill="none" stroke="#008589" stroke-width="5" stroke-linejoin="round" stroke-linecap="butt"/><rect x="177.75" y="52.5" width="1471.75" height="1096.5" fill="none" stroke="#000" stroke-width="7"/><line x1="283.00" y1="1149" x2="283.00" y2="1124.5" stroke="#000" stroke-width="6.5" stroke-linecap="butt"/><text transform="translate(282.70 1204.50) scale(0.9300 1)" x="0" y="0" font-family='"Liberation Sans", Arial, sans-serif' font-weight="bold" font-size="44" text-anchor="middle">200</text><line x1="388.12" y1="1149" x2="388.12" y2="1136" stroke="#000" stroke-width="6.5" stroke-linecap="butt"/><line x1="493.25" y1="1149" x2="493.25" y2="1124.5" stroke="#000" stroke-width="6.5" stroke-linecap="butt"/><text transform="translate(492.95 1204.50) scale(0.9300 1)" x="0" y="0" font-family='"Liberation Sans", Arial, sans-serif' font-weight="bold" font-size="44" text-anchor="middle">400</text><line x1="598.38" y1="1149" x2="598.38" y2="1136" stroke="#000" stroke-width="6.5" stroke-linecap="butt"/><line x1="703.50" y1="1149" x2="703.50" y2="1124.5" stroke="#000" stroke-width="6.5" stroke-linecap="butt"/><text transform="translate(703.20 1204.50) scale(0.9300 1)" x="0" y="0" font-family='"Liberation Sans", Arial, sans-serif' font-weight="bold" font-size="44" text-anchor="middle">600</text><line x1="808.62" y1="1149" x2="808.62" y2="1136" stroke="#000" stroke-width="6.5" stroke-linecap="butt"/><line x1="913.75" y1="1149" x2="913.75" y2="1124.5" stroke="#000" stroke-width="6.5" stroke-linecap="butt"/><text transform="translate(913.45 1204.50) scale(0.9300 1)" x="0" y="0" font-family='"Liberation Sans", Arial, sans-serif' font-weight="bold" font-size="44" text-anchor="middle">800</text><line x1="1018.88" y1="1149" x2="1018.88" y2="1136" stroke="#000" stroke-width="6.5" stroke-linecap="butt"/><line x1="1124.00" y1="1149" x2="1124.00" y2="1124.5" stroke="#000" stroke-width="6.5" stroke-linecap="butt"/><text transform="translate(1123.70 1204.50) scale(0.9300 1)" x="0" y="0" font-family='"Liberation Sans", Arial, sans-serif' font-weight="bold" font-size="44" text-anchor="middle">1000</text><line x1="1229.12" y1="1149" x2="1229.12" y2="1136" stroke="#000" stroke-width="6.5" stroke-linecap="butt"/><line x1="1334.25" y1="1149" x2="1334.25" y2="1124.5" stroke="#000" stroke-width="6.5" stroke-linecap="butt"/><text transform="translate(1333.95 1204.50) scale(0.9300 1)" x="0" y="0" font-family='"Liberation Sans", Arial, sans-serif' font-weight="bold" font-size="44" text-anchor="middle">1200</text><line x1="1439.38" y1="1149" x2="1439.38" y2="1136" stroke="#000" stroke-width="6.5" stroke-linecap="butt"/><line x1="1544.50" y1="1149" x2="1544.50" y2="1124.5" stroke="#000" stroke-width="6.5" stroke-linecap="butt"/><text transform="translate(1544.20 1204.50) scale(0.9300 1)" x="0" y="0" font-family='"Liberation Sans", Arial, sans-serif' font-weight="bold" font-size="44" text-anchor="middle">1400</text><line x1="177.75" y1="1049.50" x2="202.25" y2="1049.50" stroke="#000" stroke-width="6.5"/><text transform="translate(154.50 1060.50) scale(0.9300 1)" x="0" y="0" font-family='"Liberation Sans", Arial, sans-serif' font-weight="bold" font-size="44" text-anchor="end">0</text><line x1="177.75" y1="949.85" x2="192.75" y2="949.85" stroke="#000" stroke-width="6.5"/><line x1="177.75" y1="850.20" x2="202.25" y2="850.20" stroke="#000" stroke-width="6.5"/><text transform="translate(154.50 861.20) scale(0.9300 1)" x="0" y="0" font-family='"Liberation Sans", Arial, sans-serif' font-weight="bold" font-size="44" text-anchor="end">20</text><line x1="177.75" y1="750.55" x2="192.75" y2="750.55" stroke="#000" stroke-width="6.5"/><line x1="177.75" y1="650.90" x2="202.25" y2="650.90" stroke="#000" stroke-width="6.5"/><text transform="translate(154.50 661.90) scale(0.9300 1)" x="0" y="0" font-family='"Liberation Sans", Arial, sans-serif' font-weight="bold" font-size="44" text-anchor="end">40</text><line x1="177.75" y1="551.25" x2="192.75" y2="551.25" stroke="#000" stroke-width="6.5"/><line x1="177.75" y1="451.60" x2="202.25" y2="451.60" stroke="#000" stroke-width="6.5"/><text transform="translate(154.50 462.60) scale(0.9300 1)" x="0" y="0" font-family='"Liberation Sans", Arial, sans-serif' font-weight="bold" font-size="44" text-anchor="end">60</text><line x1="177.75" y1="351.95" x2="192.75" y2="351.95" stroke="#000" stroke-width="6.5"/><line x1="177.75" y1="252.30" x2="202.25" y2="252.30" stroke="#000" stroke-width="6.5"/><text transform="translate(154.50 263.30) scale(0.9300 1)" x="0" y="0" font-family='"Liberation Sans", Arial, sans-serif' font-weight="bold" font-size="44" text-anchor="end">80</text><line x1="177.75" y1="152.65" x2="192.75" y2="152.65" stroke="#000" stroke-width="6.5"/><text transform="translate(154.50 64.00) scale(0.9300 1)" x="0" y="0" font-family='"Liberation Sans", Arial, sans-serif' font-weight="bold" font-size="44" text-anchor="end">100</text><text transform="translate(968.50 1271.50) scale(1.0000 1)" x="0" y="0" font-family='"Liberation Serif", "Times New Roman", serif' font-weight="bold" font-size="51.8" text-anchor="middle">Wavelength (nm)</text><text transform="translate(64.6 595.3) rotate(-90)" x="0" y="0" font-family='"Liberation Serif", "Times New Roman", serif' font-weight="bold" font-size="53" text-anchor="middle">Transmittance (%)</text><line x1="1268" y1="799.7" x2="1389" y2="799.7" stroke="#000000" stroke-width="5.2"/><text transform="translate(1425.30 817.50) scale(0.9780 1)" x="0" y="0" font-family='"Liberation Serif", "Times New Roman", serif' font-weight="bold" font-size="52" text-anchor="start">PTR</text><line x1="1268" y1="863.8" x2="1389" y2="863.8" stroke="#ff0000" stroke-width="5.2"/><text transform="translate(1398.50 882.50) scale(0.9930 1)" x="0" y="0" font-family='"Liberation Serif", "Times New Roman", serif' font-weight="bold" font-size="52" text-anchor="start">100 mW</text><line x1="1268" y1="929.5" x2="1389" y2="929.5" stroke="#0000ff" stroke-width="5.2"/><text transform="translate(1398.00 947.60) scale(0.9950 1)" x="0" y="0" font-family='"Liberation Serif", "Times New Roman", serif' font-weight="bold" font-size="52" text-anchor="start">200 mW</text><line x1="1268" y1="994.3" x2="1389" y2="994.3" stroke="#008589" stroke-width="5.2"/><text transform="translate(1397.50 1012.00) scale(1.0000 1)" x="0" y="0" font-family='"Liberation Serif", "Times New Roman", serif' font-weight="bold" font-size="52" text-anchor="start">300 mW</text><text transform="translate(434.20 890.90) scale(0.9900 1)" x="0" y="0" font-family='"Liberation Serif", "Times New Roman", serif' font-weight="bold" font-size="52" text-anchor="start">@425 nm</text><text transform="translate(339.20 1070.10) scale(0.9930 1)" x="0" y="0" font-family='"Liberation Serif", "Times New Roman", serif' font-weight="bold" font-size="52" text-anchor="start">@305 nm</text></svg>
</body></html>
